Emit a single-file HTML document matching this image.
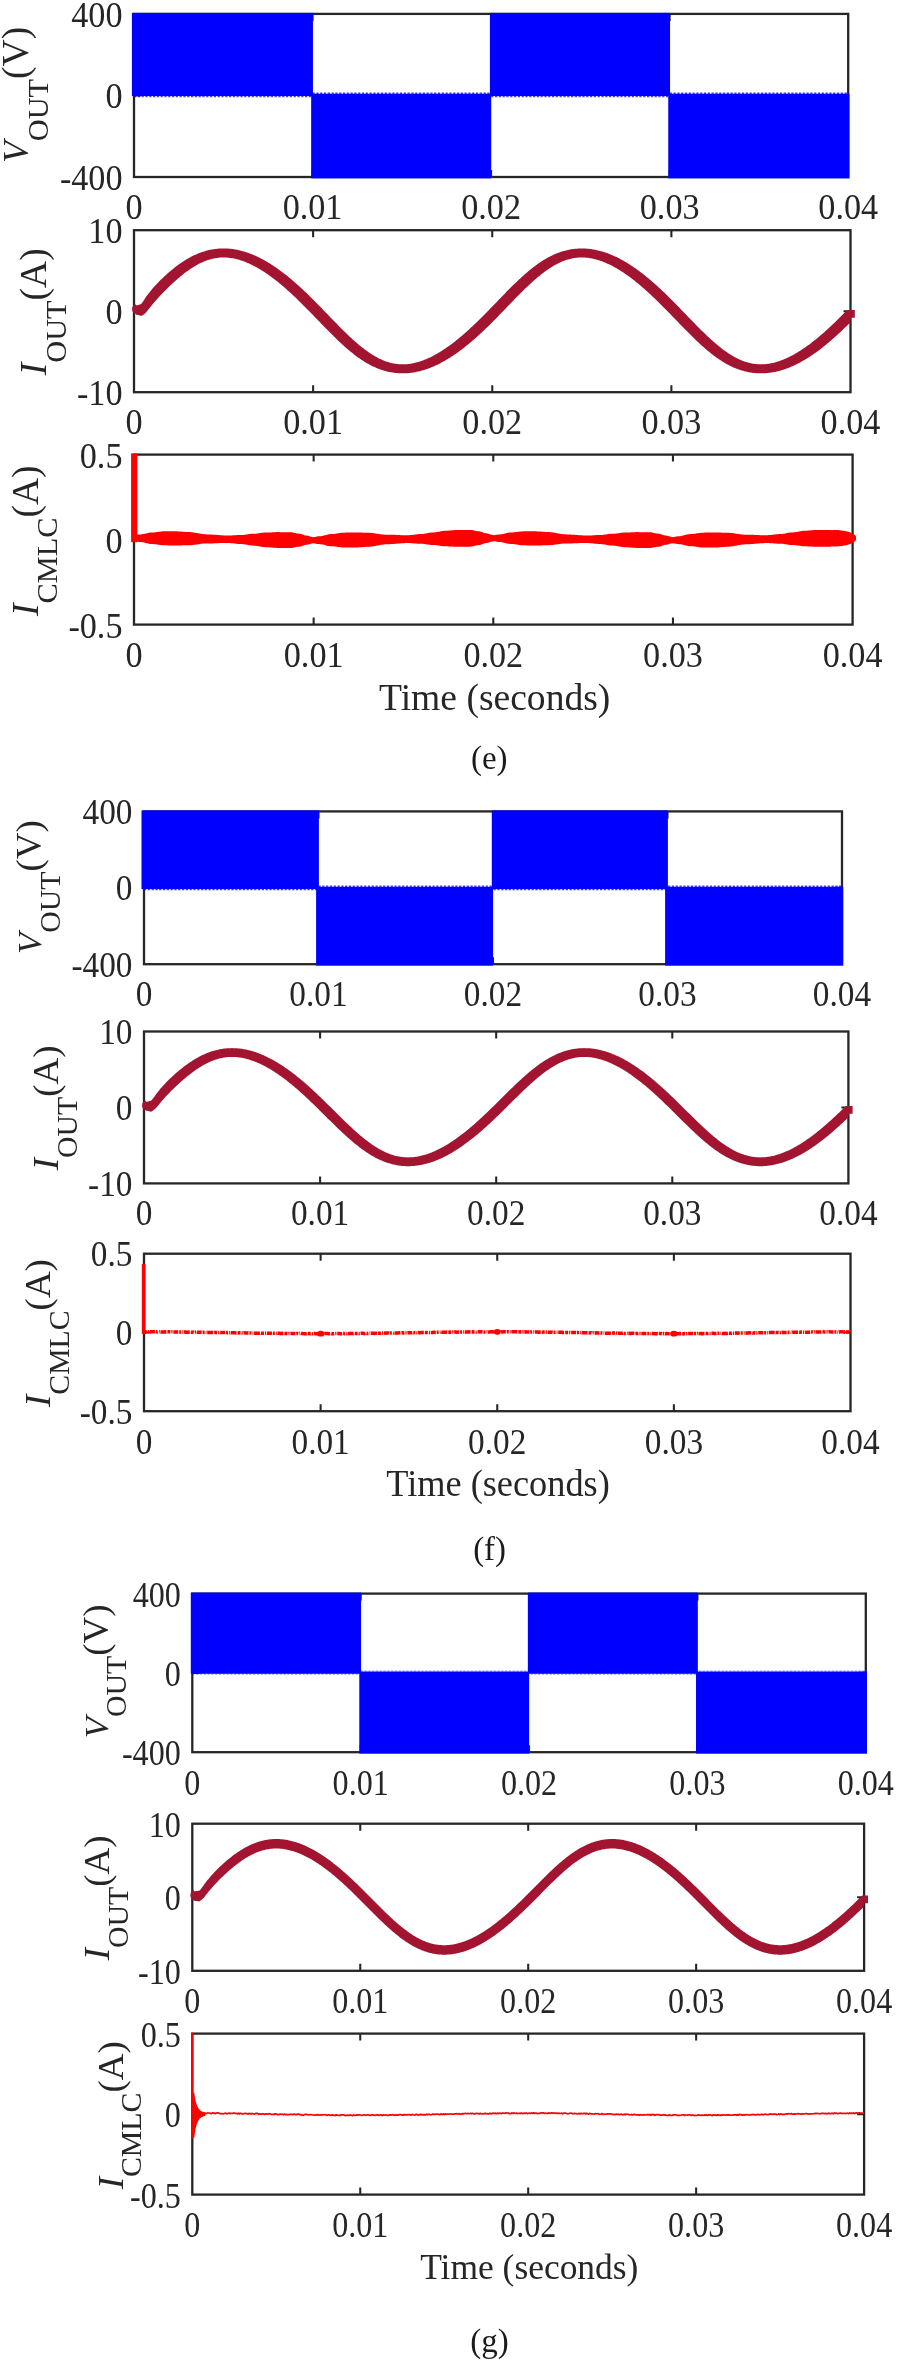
<!DOCTYPE html>
<html lang="en"><head><meta charset="utf-8"><title>Simulated waveforms</title>
<style>html,body{margin:0;padding:0;background:#fff}body{width:897px;height:2362px;overflow:hidden;font-family:"Liberation Serif",serif}svg{display:block;will-change:transform}</style></head>
<body>
<svg width="897" height="2362" viewBox="0 0 897 2362" font-family="'Liberation Serif', serif" fill="#262626">
<rect x="134" y="13.9" width="714.2" height="163.1" fill="none" stroke="#262626" stroke-width="2.3"/>
<path d="M312.55 177v-7M312.55 13.9v7M491.1 177v-7M491.1 13.9v7M669.65 177v-7M669.65 13.9v7M134 95.45h7M848.2 95.45h-7" stroke="#262626" stroke-width="2.07" fill="none"/>
<rect x="131.9" y="12.9" width="181.05" height="83.15" fill="#0000ff"/>
<rect x="311.15" y="93.75" width="180.05" height="84.65" fill="#0000ff"/>
<rect x="489.9" y="12.9" width="180.15" height="83.15" fill="#0000ff"/>
<rect x="668.25" y="93.75" width="181.15" height="84.65" fill="#0000ff"/>
<path d="M134 96.55H848.2" stroke="#0000ff" stroke-width="1.4" stroke-dasharray="2.2 1.6" opacity="0.75"/>
<path d="M312.55 93.25H848.2" stroke="#0000ff" stroke-width="1.4" stroke-dasharray="2.2 1.6" opacity="0.75"/>
<text transform="translate(134 219) scale(1.02 1.075)" font-size="33.5" text-anchor="middle">0</text>
<text transform="translate(312.55 219) scale(1.02 1.075)" font-size="33.5" text-anchor="middle">0.01</text>
<text transform="translate(491.1 219) scale(1.02 1.075)" font-size="33.5" text-anchor="middle">0.02</text>
<text transform="translate(669.65 219) scale(1.02 1.075)" font-size="33.5" text-anchor="middle">0.03</text>
<text transform="translate(848.2 219) scale(1.02 1.075)" font-size="33.5" text-anchor="middle">0.04</text>
<text transform="translate(122.5 26.89) scale(1.02 1.075)" font-size="33.5" text-anchor="end">400</text>
<text transform="translate(122.5 108.44) scale(1.02 1.075)" font-size="33.5" text-anchor="end">0</text>
<text transform="translate(122.5 189.99) scale(1.02 1.075)" font-size="33.5" text-anchor="end">-400</text>
<text transform="translate(28.3 94.75) rotate(-90)" text-anchor="middle" font-size="37.6"><tspan font-style="italic" font-size="35.3">V</tspan><tspan font-size="30.3" dy="19.55">OUT</tspan><tspan dy="-19.55">(V)</tspan></text>
<rect x="134" y="230.2" width="716.5" height="162" fill="none" stroke="#262626" stroke-width="2.3"/>
<path d="M313.12 392.2v-7M313.12 230.2v7M492.25 392.2v-7M492.25 230.2v7M671.38 392.2v-7M671.38 230.2v7M134 311.2h7M850.5 311.2h-7" stroke="#262626" stroke-width="2.07" fill="none"/>
<path d="M132 309.1L132.5 306.78L133 305.93L133.5 305.35L134 304.94L134.5 304.65L135 304.45L135.5 304.34L136 305.37L137 305.22L138 305.01L139 304.75L140 304.45L141 304.12L142 302.99L143 301.62L144 300.09L145 298.46L146 296.77L147 295.5L148 294.22L149 292.96L150 291.71L151 290.49L152 289.29L153 288.12L154 286.98L155 285.86L156 284.76L157 283.69L158 282.64L159 281.61L160 280.6L161 279.61L162 278.63L163 277.68L164 276.73L165 275.81L166 274.89L167 274L168 273.11L169 272.24L170 271.39L171 270.55L172 269.72L173 268.91L174 268.11L175 267.33L176 266.56L177 265.8L178 265.06L179 264.34L180 263.62L181 262.93L182 262.25L183 261.59L184 260.94L185 260.31L186 259.69L187 259.09L188 258.51L189 257.94L190 257.39L191 256.85L192 256.34L193 255.83L194 255.35L195 254.88L196 254.43L197 254L198 253.58L199 253.18L200 252.8L201 252.43L202 252.08L203 251.75L204 251.43L205 251.13L206 250.84L207 250.58L208 250.33L209 250.09L210 249.87L211 249.67L212 249.48L213 249.31L214 249.16L215 249.02L216 248.9L217 248.79L218 248.7L219 248.62L220 248.56L221 248.51L222 248.48L223 248.47L224 248.46L225 248.48L226 248.51L227 248.55L228 248.61L229 248.68L230 248.77L231 248.87L232 248.99L233 249.12L234 249.27L235 249.43L236 249.61L237 249.8L238 250L239 250.22L240 250.45L241 250.7L242 250.96L243 251.23L244 251.52L245 251.83L246 252.14L247 252.47L248 252.82L249 253.17L250 253.54L251 253.93L252 254.32L253 254.73L254 255.16L255 255.59L256 256.04L257 256.5L258 256.98L259 257.47L260 257.96L261 258.48L262 259L263 259.54L264 260.08L265 260.64L266 261.22L267 261.8L268 262.39L269 263L270 263.62L271 264.25L272 264.89L273 265.54L274 266.21L275 266.88L276 267.56L277 268.26L278 268.97L279 269.68L280 270.41L281 271.15L282 271.9L283 272.65L284 273.42L285 274.2L286 274.99L287 275.79L288 276.59L289 277.41L290 278.24L291 279.07L292 279.92L293 280.77L294 281.63L295 282.5L296 283.38L297 284.27L298 285.17L299 286.07L300 286.98L301 287.9L302 288.83L303 289.77L304 290.71L305 291.66L306 292.61L307 293.57L308 294.54L309 295.52L310 296.5L311 297.48L312 298.47L313 299.47L314 300.47L315 301.48L316 302.49L317 303.5L318 304.52L319 305.54L320 306.57L321 307.59L322 308.62L323 309.65L324 310.69L325 311.72L326 312.76L327 313.79L328 314.83L329 315.87L330 316.9L331 317.94L332 318.97L333 320.01L334 321.04L335 322.06L336 323.09L337 324.11L338 325.13L339 326.14L340 327.15L341 328.16L342 329.16L343 330.15L344 331.14L345 332.12L346 333.09L347 334.05L348 335.01L349 335.96L350 336.9L351 337.83L352 338.75L353 339.66L354 340.56L355 341.45L356 342.32L357 343.19L358 344.04L359 344.88L360 345.71L361 346.52L362 347.32L363 348.1L364 348.87L365 349.63L366 350.36L367 351.09L368 351.79L369 352.48L370 353.16L371 353.81L372 354.45L373 355.07L374 355.67L375 356.26L376 356.82L377 357.37L378 357.9L379 358.4L380 358.89L381 359.36L382 359.81L383 360.23L384 360.64L385 361.03L386 361.39L387 361.73L388 362.06L389 362.36L390 362.64L391 362.9L392 363.13L393 363.35L394 363.54L395 363.72L396 363.87L397 364L398 364.11L399 364.2L400 364.26L401 364.31L402 364.33L403 364.34L404 364.32L405 364.28L406 364.23L407 364.15L408 364.05L409 363.93L410 363.8L411 363.64L412 363.47L413 363.28L414 363.07L415 362.84L416 362.59L417 362.32L418 362.04L419 361.74L420 361.43L421 361.09L422 360.75L423 360.38L424 360L425 359.6L426 359.19L427 358.76L428 358.32L429 357.86L430 357.39L431 356.91L432 356.41L433 355.89L434 355.36L435 354.82L436 354.27L437 353.7L438 353.12L439 352.52L440 351.92L441 351.3L442 350.66L443 350.02L444 349.36L445 348.7L446 348.02L447 347.33L448 346.62L449 345.91L450 345.18L451 344.45L452 343.7L453 342.94L454 342.17L455 341.39L456 340.6L457 339.8L458 338.99L459 338.17L460 337.34L461 336.5L462 335.66L463 334.8L464 333.93L465 333.06L466 332.17L467 331.28L468 330.38L469 329.47L470 328.55L471 327.62L472 326.69L473 325.75L474 324.8L475 323.85L476 322.89L477 321.92L478 320.95L479 319.97L480 318.98L481 317.99L482 316.99L483 315.99L484 314.99L485 313.98L486 312.96L487 311.94L488 310.92L489 309.9L490 308.87L491 307.84L492 306.81L493 305.78L494 304.74L495 303.71L496 302.67L497 301.64L498 300.6L499 299.57L500 298.53L501 297.5L502 296.47L503 295.44L504 294.41L505 293.38L506 292.36L507 291.35L508 290.33L509 289.32L510 288.32L511 287.32L512 286.33L513 285.34L514 284.36L515 283.39L516 282.42L517 281.46L518 280.51L519 279.57L520 278.64L521 277.72L522 276.8L523 275.9L524 275.01L525 274.13L526 273.26L527 272.4L528 271.55L529 270.71L530 269.89L531 269.08L532 268.28L533 267.5L534 266.73L535 265.97L536 265.23L537 264.51L538 263.79L539 263.1L540 262.41L541 261.75L542 261.1L543 260.46L544 259.84L545 259.24L546 258.65L547 258.08L548 257.52L549 256.98L550 256.46L551 255.96L552 255.47L553 255L554 254.54L555 254.1L556 253.68L557 253.28L558 252.89L559 252.52L560 252.16L561 251.83L562 251.51L563 251.2L564 250.91L565 250.64L566 250.39L567 250.15L568 249.93L569 249.72L570 249.53L571 249.35L572 249.2L573 249.05L574 248.93L575 248.81L576 248.72L577 248.64L578 248.57L579 248.52L580 248.49L581 248.47L582 248.46L583 248.47L584 248.5L585 248.54L586 248.59L587 248.66L588 248.75L589 248.85L590 248.96L591 249.09L592 249.23L593 249.39L594 249.56L595 249.75L596 249.95L597 250.16L598 250.39L599 250.64L600 250.89L601 251.16L602 251.45L603 251.75L604 252.06L605 252.39L606 252.73L607 253.08L608 253.45L609 253.83L610 254.22L611 254.63L612 255.05L613 255.48L614 255.93L615 256.39L616 256.86L617 257.34L618 257.84L619 258.35L620 258.87L621 259.4L622 259.95L623 260.5L624 261.07L625 261.65L626 262.24L627 262.85L628 263.46L629 264.09L630 264.73L631 265.38L632 266.04L633 266.71L634 267.39L635 268.09L636 268.79L637 269.5L638 270.23L639 270.96L640 271.71L641 272.46L642 273.23L643 274.01L644 274.79L645 275.59L646 276.39L647 277.21L648 278.03L649 278.86L650 279.7L651 280.56L652 281.42L653 282.28L654 283.16L655 284.05L656 284.94L657 285.84L658 286.75L659 287.67L660 288.6L661 289.53L662 290.47L663 291.42L664 292.37L665 293.33L666 294.3L667 295.27L668 296.25L669 297.24L670 298.23L671 299.22L672 300.22L673 301.23L674 302.24L675 303.25L676 304.27L677 305.29L678 306.31L679 307.34L680 308.37L681 309.4L682 310.43L683 311.46L684 312.5L685 313.54L686 314.57L687 315.61L688 316.65L689 317.68L690 318.72L691 319.75L692 320.78L693 321.81L694 322.83L695 323.86L696 324.88L697 325.89L698 326.9L699 327.91L700 328.91L701 329.9L702 330.89L703 331.87L704 332.85L705 333.81L706 334.77L707 335.72L708 336.66L709 337.6L710 338.52L711 339.43L712 340.33L713 341.22L714 342.1L715 342.97L716 343.83L717 344.67L718 345.5L719 346.32L720 347.12L721 347.91L722 348.68L723 349.44L724 350.18L725 350.91L726 351.62L727 352.31L728 352.99L729 353.65L730 354.29L731 354.92L732 355.53L733 356.11L734 356.68L735 357.24L736 357.77L737 358.28L738 358.77L739 359.24L740 359.7L741 360.13L742 360.54L743 360.93L744 361.3L745 361.65L746 361.98L747 362.28L748 362.57L749 362.83L750 363.08L751 363.3L752 363.5L753 363.68L754 363.83L755 363.97L756 364.08L757 364.18L758 364.25L759 364.3L760 364.33L761 364.34L762 364.33L763 364.29L764 364.24L765 364.17L766 364.08L767 363.97L768 363.83L769 363.68L770 363.51L771 363.33L772 363.12L773 362.9L774 362.65L775 362.39L776 362.11L777 361.82L778 361.51L779 361.18L780 360.83L781 360.47L782 360.1L783 359.7L784 359.29L785 358.87L786 358.43L787 357.98L788 357.51L789 357.03L790 356.53L791 356.02L792 355.5L793 354.96L794 354.41L795 353.84L796 353.26L797 352.67L798 352.07L799 351.45L800 350.82L801 350.18L802 349.53L803 348.86L804 348.19L805 347.5L806 346.8L807 346.09L808 345.36L809 344.63L810 343.89L811 343.13L812 342.36L813 341.59L814 340.8L815 340L816 339.2L817 338.38L818 337.55L819 336.72L820 335.87L821 335.01L822 334.15L823 333.28L824 332.39L825 331.5L826 330.6L827 329.7L828 328.78L829 327.86L830 326.93L831 325.99L832 325.04L833 324.09L834 323.13L835 322.16L836 321.19L837 320.21L838 319.23L839 318.24L840 317.24L841 316.24L842 315.24L843 314.23L844 313.22L845 312.2L846 311.18L847 310.16L848 309.88L849 309.88L850 309.88L851 309.88L852 309.88L853 309.88L854 309.88L854.8 309.88L854.8 317.68L854 317.68L853 317.68L852 317.68L851 317.68L850 322.7L849 323.7L848 324.69L847 325.67L846 326.65L845 327.62L844 328.59L843 329.55L842 330.5L841 331.45L840 332.39L839 333.32L838 334.24L837 335.16L836 336.07L835 336.97L834 337.86L833 338.75L832 339.62L831 340.49L830 341.35L829 342.2L828 343.04L827 343.87L826 344.7L825 345.51L824 346.31L823 347.11L822 347.89L821 348.67L820 349.43L819 350.19L818 350.93L817 351.66L816 352.39L815 353.1L814 353.8L813 354.49L812 355.17L811 355.84L810 356.5L809 357.15L808 357.79L807 358.41L806 359.03L805 359.63L804 360.22L803 360.8L802 361.37L801 361.92L800 362.47L799 363L798 363.52L797 364.02L796 364.52L795 365L794 365.47L793 365.93L792 366.37L791 366.8L790 367.22L789 367.63L788 368.02L787 368.4L786 368.76L785 369.11L784 369.45L783 369.78L782 370.09L781 370.39L780 370.67L779 370.94L778 371.19L777 371.44L776 371.66L775 371.88L774 372.08L773 372.26L772 372.43L771 372.59L770 372.73L769 372.85L768 372.97L767 373.06L766 373.15L765 373.21L764 373.27L763 373.31L762 373.33L761 373.34L760 373.33L759 373.31L758 373.27L757 373.22L756 373.15L755 373.07L754 372.97L753 372.86L752 372.73L751 372.58L750 372.42L749 372.25L748 372.06L747 371.85L746 371.62L745 371.38L744 371.12L743 370.85L742 370.56L741 370.25L740 369.93L739 369.59L738 369.24L737 368.86L736 368.47L735 368.07L734 367.64L733 367.2L732 366.74L731 366.27L730 365.78L729 365.27L728 364.75L727 364.21L726 363.65L725 363.08L724 362.49L723 361.88L722 361.26L721 360.62L720 359.97L719 359.3L718 358.62L717 357.92L716 357.2L715 356.47L714 355.73L713 354.97L712 354.2L711 353.42L710 352.62L709 351.81L708 350.98L707 350.15L706 349.3L705 348.44L704 347.56L703 346.68L702 345.79L701 344.88L700 343.97L699 343.04L698 342.11L697 341.17L696 340.22L695 339.26L694 338.29L693 337.32L692 336.34L691 335.35L690 334.35L689 333.36L688 332.35L687 331.34L686 330.33L685 329.31L684 328.29L683 327.26L682 326.24L681 325.21L680 324.17L679 323.14L678 322.11L677 321.07L676 320.03L675 319L674 317.96L673 316.93L672 315.89L671 314.86L670 313.83L669 312.8L668 311.77L667 310.75L666 309.73L665 308.71L664 307.7L663 306.69L662 305.68L661 304.68L660 303.69L659 302.7L658 301.71L657 300.73L656 299.76L655 298.79L654 297.83L653 296.88L652 295.93L651 294.99L650 294.06L649 293.13L648 292.22L647 291.31L646 290.41L645 289.52L644 288.63L643 287.76L642 286.89L641 286.04L640 285.19L639 284.35L638 283.52L637 282.71L636 281.9L635 281.1L634 280.31L633 279.53L632 278.76L631 278.01L630 277.26L629 276.53L628 275.8L627 275.09L626 274.39L625 273.7L624 273.02L623 272.35L622 271.7L621 271.06L620 270.43L619 269.81L618 269.2L617 268.61L616 268.03L615 267.46L614 266.91L613 266.37L612 265.84L611 265.33L610 264.83L609 264.35L608 263.88L607 263.42L606 262.98L605 262.56L604 262.15L603 261.75L602 261.37L601 261.01L600 260.66L599 260.33L598 260.02L597 259.72L596 259.44L595 259.18L594 258.93L593 258.71L592 258.5L591 258.31L590 258.14L589 257.98L588 257.85L587 257.74L586 257.64L585 257.57L584 257.51L583 257.48L582 257.46L581 257.47L580 257.5L579 257.54L578 257.61L577 257.7L576 257.82L575 257.95L574 258.1L573 258.28L572 258.48L571 258.69L570 258.93L569 259.2L568 259.48L567 259.78L566 260.11L565 260.45L564 260.82L563 261.21L562 261.62L561 262.05L560 262.5L559 262.97L558 263.46L557 263.97L556 264.5L555 265.05L554 265.61L553 266.2L552 266.8L551 267.43L550 268.07L549 268.73L548 269.4L547 270.09L546 270.8L545 271.53L544 272.27L543 273.02L542 273.8L541 274.58L540 275.38L539 276.2L538 277.03L537 277.87L536 278.72L535 279.59L534 280.46L533 281.35L532 282.25L531 283.17L530 284.09L529 285.02L528 285.96L527 286.91L526 287.87L525 288.83L524 289.81L523 290.79L522 291.78L521 292.77L520 293.77L519 294.77L518 295.78L517 296.8L516 297.82L515 298.84L514 299.86L513 300.89L512 301.92L511 302.96L510 303.99L509 305.02L508 306.06L507 307.1L506 308.13L505 309.17L504 310.21L503 311.24L502 312.27L501 313.31L500 314.34L499 315.36L498 316.39L497 317.41L496 318.42L495 319.44L494 320.45L493 321.45L492 322.45L491 323.45L490 324.44L489 325.43L488 326.41L487 327.38L486 328.35L485 329.31L484 330.26L483 331.21L482 332.15L481 333.09L480 334.01L479 334.93L478 335.84L477 336.75L476 337.64L475 338.53L474 339.41L473 340.28L472 341.14L471 341.99L470 342.83L469 343.67L468 344.49L467 345.31L466 346.11L465 346.91L464 347.7L463 348.47L462 349.24L461 350L460 350.74L459 351.48L458 352.21L457 352.92L456 353.63L455 354.32L454 355.01L453 355.68L452 356.34L451 356.99L450 357.63L449 358.26L448 358.87L447 359.48L446 360.07L445 360.66L444 361.23L443 361.79L442 362.33L441 362.87L440 363.39L439 363.9L438 364.4L437 364.88L436 365.35L435 365.81L434 366.26L433 366.7L432 367.12L431 367.53L430 367.92L429 368.3L428 368.67L427 369.03L426 369.37L425 369.7L424 370.01L423 370.31L422 370.6L421 370.87L420 371.13L419 371.38L418 371.61L417 371.82L416 372.03L415 372.22L414 372.39L413 372.55L412 372.69L411 372.82L410 372.94L409 373.04L408 373.13L407 373.2L406 373.26L405 373.3L404 373.32L403 373.34L402 373.33L401 373.32L400 373.28L399 373.23L398 373.17L397 373.09L396 373L395 372.89L394 372.76L393 372.62L392 372.47L391 372.29L390 372.1L389 371.9L388 371.68L387 371.44L386 371.19L385 370.92L384 370.63L383 370.33L382 370.01L381 369.68L380 369.33L379 368.96L378 368.57L377 368.17L376 367.75L375 367.31L374 366.86L373 366.39L372 365.9L371 365.4L370 364.88L369 364.35L368 363.79L367 363.22L366 362.64L365 362.04L364 361.42L363 360.78L362 360.14L361 359.47L360 358.79L359 358.09L358 357.38L357 356.66L356 355.92L355 355.16L354 354.4L353 353.61L352 352.82L351 352.01L350 351.19L349 350.36L348 349.51L347 348.65L346 347.78L345 346.9L344 346.01L343 345.11L342 344.2L341 343.28L340 342.34L339 341.4L338 340.46L337 339.5L336 338.53L335 337.56L334 336.58L333 335.6L332 334.6L331 333.61L330 332.6L329 331.59L328 330.58L327 329.56L326 328.54L325 327.52L324 326.49L323 325.46L322 324.43L321 323.4L320 322.36L319 321.33L318 320.29L317 319.26L316 318.22L315 317.18L314 316.15L313 315.12L312 314.09L311 313.06L310 312.03L309 311L308 309.98L307 308.96L306 307.95L305 306.94L304 305.93L303 304.93L302 303.93L301 302.94L300 301.96L299 300.98L298 300L297 299.03L296 298.07L295 297.12L294 296.17L293 295.23L292 294.29L291 293.37L290 292.45L289 291.54L288 290.63L287 289.74L286 288.85L285 287.98L284 287.11L283 286.25L282 285.4L281 284.56L280 283.73L279 282.91L278 282.1L277 281.3L276 280.51L275 279.73L274 278.96L273 278.2L272 277.45L271 276.71L270 275.98L269 275.27L268 274.56L267 273.87L266 273.19L265 272.52L264 271.86L263 271.22L262 270.58L261 269.96L260 269.35L259 268.76L258 268.17L257 267.6L256 267.05L255 266.5L254 265.97L253 265.46L252 264.96L251 264.47L250 263.99L249 263.54L248 263.09L247 262.66L246 262.25L245 261.85L244 261.47L243 261.1L242 260.75L241 260.41L240 260.1L239 259.79L238 259.51L237 259.24L236 258.99L235 258.76L234 258.55L233 258.35L232 258.18L231 258.02L230 257.88L229 257.76L228 257.66L227 257.58L226 257.52L225 257.48L224 257.46L223 257.47L222 257.49L221 257.53L220 257.59L219 257.68L218 257.79L217 257.91L216 258.06L215 258.23L214 258.42L213 258.64L212 258.87L211 259.13L210 259.41L209 259.7L208 260.02L207 260.37L206 260.73L205 261.11L204 261.51L203 261.94L202 262.38L201 262.85L200 263.33L199 263.84L198 264.36L197 264.91L196 265.47L195 266.05L194 266.65L193 267.27L192 267.91L191 268.56L190 269.23L189 269.92L188 270.63L187 271.35L186 272.08L185 272.84L184 273.6L183 274.39L182 275.19L181 276L180 276.82L179 277.66L178 278.52L177 279.38L176 280.26L175 281.15L174 282.05L173 282.97L172 283.89L171 284.83L170 285.77L169 286.73L168 287.7L167 288.68L166 289.67L165 290.67L164 291.68L163 292.71L162 293.74L161 294.79L160 295.85L159 296.93L158 298.02L157 299.13L156 300.25L155 301.4L154 302.56L153 303.75L152 304.95L151 306.18L150 307.43L149 308.7L148 309.99L147 311.28L146 312.57L145 313.39L144 314.18L143 314.89L142 315.48L141 315.88L140 315.55L139 315.25L138 314.99L137 314.78L136 314.63L135.5 313.86L135 313.75L134.5 313.55L134 313.26L133.5 312.85L133 312.27L132.5 311.42L132 309.1Z" fill="#a2142f"/>
<text transform="translate(134 434.2) scale(1.02 1.075)" font-size="33.5" text-anchor="middle">0</text>
<text transform="translate(313.12 434.2) scale(1.02 1.075)" font-size="33.5" text-anchor="middle">0.01</text>
<text transform="translate(492.25 434.2) scale(1.02 1.075)" font-size="33.5" text-anchor="middle">0.02</text>
<text transform="translate(671.38 434.2) scale(1.02 1.075)" font-size="33.5" text-anchor="middle">0.03</text>
<text transform="translate(850.5 434.2) scale(1.02 1.075)" font-size="33.5" text-anchor="middle">0.04</text>
<text transform="translate(122.5 243.19) scale(1.02 1.075)" font-size="33.5" text-anchor="end">10</text>
<text transform="translate(122.5 324.19) scale(1.02 1.075)" font-size="33.5" text-anchor="end">0</text>
<text transform="translate(122.5 405.19) scale(1.02 1.075)" font-size="33.5" text-anchor="end">-10</text>
<text transform="translate(46 311.7) rotate(-90)" text-anchor="middle" font-size="37.6"><tspan font-style="italic">I</tspan><tspan font-size="30.3" dy="19.55">OUT</tspan><tspan dy="-19.55">(A)</tspan></text>
<rect x="134" y="454.6" width="718.6" height="170" fill="none" stroke="#262626" stroke-width="2.3"/>
<path d="M313.65 624.6v-7M313.65 454.6v7M493.3 624.6v-7M493.3 454.6v7M672.95 624.6v-7M672.95 454.6v7M134 539.6h7M852.6 539.6h-7" stroke="#262626" stroke-width="2.07" fill="none"/>
<path d="M134 535.2L135 535.14L136 534.99L137 534.79L138 534.61L139 534.51L140 534.49L141 534.42L142 534.29L143 534.11L144 533.89L145 533.65L146 533.39L147 533.14L148 532.9L149 532.71L150 532.56L151 532.47L152 532.45L153 532.43L154 532.38L155 532.3L156 532.19L157 532.06L158 531.92L159 531.78L160 531.65L161 531.53L162 531.43L163 531.37L164 531.34L165 531.34L166 531.35L167 531.35L168 531.35L169 531.35L170 531.35L171 531.35L172 531.35L173 531.35L174 531.35L175 531.35L176 531.36L177 531.37L178 531.39L179 531.43L180 531.49L181 531.56L182 531.65L183 531.73L184 531.81L185 531.89L186 531.95L187 531.99L188 532.01L189 532.04L190 532.1L191 532.18L192 532.29L193 532.41L194 532.56L195 532.72L196 532.89L197 533.07L198 533.25L199 533.43L200 533.61L201 533.78L202 533.93L203 534.07L204 534.19L205 534.28L206 534.36L207 534.4L208 534.43L209 534.45L210 534.49L211 534.53L212 534.59L213 534.65L214 534.72L215 534.79L216 534.87L217 534.95L218 535.03L219 535.11L220 535.19L221 535.26L222 535.33L223 535.39L224 535.45L225 535.49L226 535.53L227 535.55L228 535.57L229 535.56L230 535.54L231 535.49L232 535.44L233 535.36L234 535.29L235 535.21L236 535.13L237 535.05L238 534.99L239 534.94L240 534.91L241 534.9L242 534.91L243 534.89L244 534.82L245 534.7L246 534.55L247 534.38L248 534.21L249 534.05L250 533.92L251 533.82L252 533.78L253 533.79L254 533.77L255 533.72L256 533.63L257 533.52L258 533.39L259 533.25L260 533.1L261 532.95L262 532.82L263 532.69L264 532.6L265 532.53L266 532.49L267 532.49L268 532.49L269 532.47L270 532.43L271 532.38L272 532.32L273 532.26L274 532.2L275 532.15L276 532.12L277 532.11L278 532.11L279 532.12L280 532.13L281 532.14L282 532.15L283 532.16L284 532.17L285 532.18L286 532.19L287 532.19L288 532.2L289 532.21L290 532.22L291 532.24L292 532.35L293 532.53L294 532.75L295 533L296 533.24L297 533.45L298 533.59L299 533.66L300 533.72L301 533.93L302 534.28L303 534.69L304 535.09L305 535.4L306 535.57L307 535.62L308 535.77L309 536.04L310 536.38L311 536.72L312 537L313 537.17L314 537.01L315 536.91L316 536.72L317 536.51L318 536.34L319 536.27L320 536.24L321 536.14L322 535.98L323 535.76L324 535.51L325 535.24L326 534.96L327 534.69L328 534.44L329 534.25L330 534.1L331 534.02L332 534L333 533.96L334 533.88L335 533.77L336 533.63L337 533.48L338 533.31L339 533.15L340 532.99L341 532.86L342 532.75L343 532.68L344 532.64L345 532.63L346 532.62L347 532.6L348 532.58L349 532.56L350 532.54L351 532.51L352 532.49L353 532.47L354 532.45L355 532.43L356 532.41L357 532.4L358 532.4L359 532.43L360 532.47L361 532.53L362 532.59L363 532.65L364 532.71L365 532.76L366 532.79L367 532.8L368 532.79L369 532.8L370 532.84L371 532.91L372 532.99L373 533.1L374 533.23L375 533.38L376 533.53L377 533.69L378 533.85L379 534.01L380 534.16L381 534.3L382 534.42L383 534.53L384 534.61L385 534.67L386 534.71L387 534.71L388 534.7L389 534.7L390 534.7L391 534.72L392 534.74L393 534.77L394 534.81L395 534.86L396 534.9L397 534.95L398 535L399 535.05L400 535.1L401 535.14L402 535.17L403 535.2L404 535.22L405 535.23L406 535.23L407 535.22L408 535.19L409 535.14L410 535.07L411 534.98L412 534.88L413 534.76L414 534.64L415 534.52L416 534.41L417 534.3L418 534.2L419 534.12L420 534.06L421 534.02L422 534L423 533.92L424 533.79L425 533.62L426 533.42L427 533.2L428 532.99L429 532.8L430 532.64L431 532.53L432 532.47L433 532.44L434 532.38L435 532.28L436 532.15L437 532L438 531.82L439 531.64L440 531.45L441 531.27L442 531.1L443 530.95L444 530.83L445 530.74L446 530.69L447 530.66L448 530.63L449 530.58L450 530.51L451 530.43L452 530.34L453 530.25L454 530.17L455 530.1L456 530.05L457 530.02L458 530.01L459 530L460 529.99L461 529.98L462 529.97L463 529.96L464 529.95L465 529.95L466 529.94L467 529.93L468 529.92L469 529.91L470 529.91L471 529.95L472 530.08L473 530.27L474 530.51L475 530.76L476 531L477 531.19L478 531.31L479 531.34L480 531.45L481 531.72L482 532.11L483 532.54L484 532.94L485 533.22L486 533.33L487 533.39L488 533.6L489 533.92L490 534.28L491 534.63L492 534.89L493 535.01L494 535.17L495 535.04L496 534.85L497 534.66L498 534.53L499 534.5L500 534.45L501 534.34L502 534.17L503 533.96L504 533.72L505 533.46L506 533.21L507 532.97L508 532.76L509 532.6L510 532.49L511 532.45L512 532.44L513 532.4L514 532.33L515 532.23L516 532.1L517 531.97L518 531.82L519 531.69L520 531.56L521 531.46L522 531.39L523 531.35L524 531.34L525 531.35L526 531.35L527 531.35L528 531.35L529 531.35L530 531.35L531 531.35L532 531.35L533 531.35L534 531.35L535 531.36L536 531.37L537 531.38L538 531.42L539 531.47L540 531.54L541 531.62L542 531.71L543 531.79L544 531.87L545 531.93L546 531.98L547 532.01L548 532.03L549 532.08L550 532.16L551 532.25L552 532.37L553 532.51L554 532.67L555 532.84L556 533.01L557 533.2L558 533.38L559 533.56L560 533.73L561 533.89L562 534.03L563 534.15L564 534.26L565 534.34L566 534.39L567 534.42L568 534.44L569 534.48L570 534.52L571 534.57L572 534.63L573 534.69L574 534.77L575 534.84L576 534.92L577 535L578 535.08L579 535.16L580 535.24L581 535.31L582 535.37L583 535.43L584 535.48L585 535.52L586 535.55L587 535.57L588 535.57L589 535.55L590 535.51L591 535.45L592 535.39L593 535.31L594 535.23L595 535.15L596 535.07L597 535.01L598 534.96L599 534.92L600 534.9L601 534.91L602 534.9L603 534.84L604 534.74L605 534.59L606 534.43L607 534.26L608 534.09L609 533.95L610 533.85L611 533.79L612 533.78L613 533.78L614 533.73L615 533.66L616 533.56L617 533.43L618 533.29L619 533.15L620 533L621 532.86L622 532.73L623 532.62L624 532.54L625 532.5L626 532.48L627 532.49L628 532.47L629 532.44L630 532.4L631 532.34L632 532.28L633 532.22L634 532.17L635 532.13L636 532.11L637 532.11L638 532.12L639 532.13L640 532.14L641 532.15L642 532.16L643 532.17L644 532.17L645 532.18L646 532.19L647 532.2L648 532.21L649 532.21L650 532.23L651 532.31L652 532.47L653 532.68L654 532.92L655 533.17L656 533.39L657 533.56L658 533.65L659 533.69L660 533.85L661 534.16L662 534.56L663 534.97L664 535.32L665 535.54L666 535.6L667 535.71L668 535.95L669 536.27L670 536.62L671 536.93L672 537.13L673 537.02L674 536.95L675 536.78L676 536.57L677 536.38L678 536.28L679 536.26L680 536.18L681 536.03L682 535.83L683 535.59L684 535.32L685 535.04L686 534.76L687 534.51L688 534.3L689 534.14L690 534.04L691 534L692 533.97L693 533.91L694 533.81L695 533.68L696 533.52L697 533.36L698 533.2L699 533.04L700 532.9L701 532.78L702 532.7L703 532.65L704 532.64L705 532.62L706 532.61L707 532.59L708 532.57L709 532.55L710 532.52L711 532.5L712 532.47L713 532.45L714 532.43L715 532.42L716 532.4L717 532.4L718 532.42L719 532.46L720 532.51L721 532.57L722 532.64L723 532.7L724 532.75L725 532.78L726 532.8L727 532.79L728 532.79L729 532.83L730 532.88L731 532.97L732 533.07L733 533.19L734 533.33L735 533.48L736 533.64L737 533.8L738 533.96L739 534.11L740 534.26L741 534.39L742 534.5L743 534.59L744 534.66L745 534.7L746 534.71L747 534.7L748 534.7L749 534.7L750 534.71L751 534.73L752 534.76L753 534.8L754 534.84L755 534.89L756 534.94L757 534.99L758 535.04L759 535.08L760 535.13L761 535.16L762 535.19L763 535.21L764 535.23L765 535.23L766 535.22L767 535.2L768 535.16L769 535.09L770 535.01L771 534.91L772 534.8L773 534.68L774 534.56L775 534.44L776 534.33L777 534.23L778 534.14L779 534.08L780 534.03L781 534.01L782 533.95L783 533.83L784 533.67L785 533.48L786 533.27L787 533.05L788 532.85L789 532.68L790 532.55L791 532.48L792 532.45L793 532.4L794 532.31L795 532.19L796 532.05L797 531.88L798 531.7L799 531.51L800 531.32L801 531.15L802 530.99L803 530.86L804 530.76L805 530.7L806 530.67L807 530.64L808 530.6L809 530.53L810 530.45L811 530.37L812 530.28L813 530.19L814 530.12L815 530.07L816 530.03L817 530.01L818 530L819 529.99L820 529.98L821 529.97L822 529.97L823 529.96L824 529.95L825 529.94L826 529.93L827 529.92L828 529.92L829 529.91L830 529.93L831 530.03L832 530.21L833 529.91L834 529.92L835 529.94L836 529.98L837 530.03L838 530.1L839 530.18L840 530.27L841 530.38L842 530.51L843 530.66L844 530.82L845 531.01L846 531.21L847 531.45L848 531.71L849 532L850 532.34L851 532.72L852 533.16L853 533.68L854 534.32L855 535.17L856 536.62L856 539.78L855 541.23L854 542.08L853 542.72L852 543.24L851 543.68L850 544.07L849 544.4L848 544.7L847 544.96L846 545.2L845 545.41L844 545.6L843 545.77L842 545.92L841 546.06L840 546.18L839 546.28L838 546.37L837 546.44L836 546.5L835 546.55L834 546.58L833 546.6L832 546.32L831 546.51L830 546.63L829 546.66L828 546.67L827 546.67L826 546.68L825 546.69L824 546.7L823 546.71L822 546.71L821 546.72L820 546.73L819 546.74L818 546.75L817 546.76L816 546.77L815 546.75L814 546.72L813 546.67L812 546.61L811 546.54L810 546.48L809 546.42L808 546.38L807 546.36L806 546.36L805 546.36L804 546.32L803 546.24L802 546.14L801 546.01L800 545.87L799 545.71L798 545.55L797 545.4L796 545.26L795 545.14L794 545.05L793 544.99L792 544.97L791 544.97L790 544.93L789 544.83L788 544.7L787 544.53L786 544.34L785 544.16L784 544L783 543.87L782 543.79L781 543.76L780 543.77L779 543.76L778 543.73L777 543.68L776 543.61L775 543.54L774 543.45L773 543.36L772 543.28L771 543.2L770 543.14L769 543.09L768 543.06L767 543.05L766 543.07L765 543.09L764 543.13L763 543.18L762 543.23L761 543.3L760 543.37L759 543.45L758 543.53L757 543.61L756 543.7L755 543.78L754 543.86L753 543.94L752 544.01L751 544.08L750 544.13L749 544.18L748 544.22L747 544.24L746 544.26L745 544.31L744 544.39L743 544.49L742 544.61L741 544.76L740 544.92L739 545.09L738 545.28L737 545.47L736 545.66L735 545.85L734 546.03L733 546.2L732 546.36L731 546.49L730 546.6L729 546.69L728 546.75L727 546.78L726 546.8L725 546.85L724 546.91L723 546.99L722 547.07L721 547.16L720 547.25L719 547.33L718 547.39L717 547.43L716 547.46L715 547.47L714 547.47L713 547.48L712 547.48L711 547.48L710 547.47L709 547.47L708 547.47L707 547.47L706 547.47L705 547.47L704 547.48L703 547.48L702 547.45L701 547.38L700 547.28L699 547.16L698 547.02L697 546.86L696 546.72L695 546.58L694 546.46L693 546.37L692 546.32L691 546.3L690 546.27L689 546.18L688 546.03L687 545.83L686 545.58L685 545.32L684 545.04L683 544.78L682 544.54L681 544.35L680 544.21L679 544.13L678 544.11L677 544.01L676 543.83L675 543.61L674 543.45L673 543.38L672 543.27L671 543.47L670 543.78L669 544.12L668 544.44L667 544.68L666 544.79L665 544.84L664 545.06L663 545.4L662 545.8L661 546.19L660 546.5L659 546.65L658 546.68L657 546.77L656 546.92L655 547.13L654 547.37L653 547.6L652 547.8L651 547.94L650 548.01L649 548.01L648 548.01L647 548L646 547.99L645 547.98L644 547.97L643 547.97L642 547.96L641 547.95L640 547.94L639 547.93L638 547.92L637 547.91L636 547.89L635 547.85L634 547.79L633 547.71L632 547.63L631 547.55L630 547.47L629 547.4L628 547.34L627 547.3L626 547.28L625 547.24L624 547.17L623 547.06L622 546.93L621 546.77L620 546.6L619 546.43L618 546.25L617 546.08L616 545.93L615 545.8L614 545.69L613 545.62L612 545.58L611 545.55L610 545.46L609 545.32L608 545.15L607 544.95L606 544.75L605 544.55L604 544.38L603 544.24L602 544.15L601 544.11L600 544.08L599 544.03L598 543.96L597 543.87L596 543.77L595 543.66L594 543.55L593 543.43L592 543.32L591 543.22L590 543.13L589 543.06L588 543L587 542.97L586 542.95L585 542.95L584 542.95L583 542.97L582 542.99L581 543.02L580 543.05L579 543.09L578 543.14L577 543.18L576 543.23L575 543.27L574 543.32L573 543.35L572 543.38L571 543.41L570 543.43L569 543.43L568 543.43L567 543.42L566 543.42L565 543.44L564 543.49L563 543.56L562 543.65L561 543.76L560 543.89L559 544.02L558 544.17L557 544.32L556 544.47L555 544.62L554 544.76L553 544.88L552 544.99L551 545.08L550 545.15L549 545.2L548 545.22L547 545.21L546 545.21L545 545.23L544 545.27L543 545.32L542 545.38L541 545.44L540 545.49L539 545.54L538 545.56L537 545.57L536 545.57L535 545.55L534 545.53L533 545.51L532 545.49L531 545.47L530 545.45L529 545.42L528 545.4L527 545.38L526 545.37L525 545.35L524 545.34L523 545.32L522 545.26L521 545.17L520 545.05L519 544.91L518 544.76L517 544.6L516 544.45L515 544.31L514 544.2L513 544.11L512 544.06L511 544.05L510 543.99L509 543.87L508 543.7L507 543.49L506 543.24L505 542.98L504 542.71L503 542.47L502 542.25L501 542.08L500 541.96L499 541.91L498 541.88L497 541.75L496 541.55L495 541.36L494 541.23L493 541.39L492 541.51L491 541.77L490 542.12L489 542.49L488 542.81L487 543.02L486 543.09L485 543.2L484 543.49L483 543.89L482 544.33L481 544.73L480 545.01L479 545.12L478 545.16L477 545.29L476 545.49L475 545.74L474 546L473 546.25L472 546.46L471 546.6L470 546.66L469 546.66L468 546.67L467 546.68L466 546.69L465 546.69L464 546.7L463 546.71L462 546.72L461 546.73L460 546.74L459 546.75L458 546.76L457 546.77L456 546.76L455 546.73L454 546.68L453 546.62L452 546.56L451 546.5L450 546.44L449 546.39L448 546.36L447 546.36L446 546.36L445 546.33L444 546.27L443 546.17L442 546.05L441 545.91L440 545.76L439 545.6L438 545.44L437 545.3L436 545.17L435 545.07L434 545L433 544.97L432 544.97L431 544.95L430 544.87L429 544.74L428 544.58L427 544.4L426 544.22L425 544.05L424 543.91L423 543.81L422 543.77L421 543.77L420 543.77L419 543.74L418 543.7L417 543.63L416 543.56L415 543.48L414 543.39L413 543.3L412 543.22L411 543.16L410 543.1L409 543.07L408 543.05L407 543.06L406 543.08L405 543.12L404 543.16L403 543.22L402 543.28L401 543.35L400 543.42L399 543.5L398 543.59L397 543.67L396 543.76L395 543.84L394 543.92L393 543.99L392 544.06L391 544.12L390 544.17L389 544.21L388 544.23L387 544.26L386 544.29L385 544.36L384 544.45L383 544.57L382 544.71L381 544.87L380 545.04L379 545.22L378 545.41L377 545.6L376 545.8L375 545.98L374 546.15L373 546.31L372 546.45L371 546.57L370 546.66L369 546.73L368 546.77L367 546.79L366 546.83L365 546.89L364 546.96L363 547.05L362 547.14L361 547.22L360 547.31L359 547.37L358 547.42L357 547.45L356 547.46L355 547.47L354 547.48L353 547.48L352 547.48L351 547.47L350 547.47L349 547.47L348 547.47L347 547.47L346 547.47L345 547.47L344 547.48L343 547.46L342 547.41L341 547.32L340 547.2L339 547.06L338 546.91L337 546.76L336 546.62L335 546.49L334 546.39L333 546.33L332 546.3L331 546.29L330 546.22L329 546.08L328 545.89L327 545.66L326 545.4L325 545.12L324 544.86L323 544.61L322 544.4L321 544.24L320 544.15L319 544.12L318 544.05L317 543.89L316 543.68L315 543.49L314 543.39L313 543.23L312 543.4L311 543.68L310 544.02L309 544.35L308 544.62L307 544.77L306 544.81L305 544.98L304 545.29L303 545.68L302 546.08L301 546.42L300 546.62L299 546.67L298 546.73L297 546.87L296 547.06L295 547.3L294 547.53L293 547.75L292 547.91L291 548L290 548.02L289 548.01L288 548L287 547.99L286 547.99L285 547.98L284 547.97L283 547.96L282 547.95L281 547.94L280 547.93L279 547.92L278 547.91L277 547.9L276 547.86L275 547.81L274 547.74L273 547.66L272 547.57L271 547.49L270 547.42L269 547.35L268 547.31L267 547.29L266 547.26L265 547.19L264 547.1L263 546.97L262 546.82L261 546.66L260 546.48L259 546.3L258 546.13L257 545.97L256 545.83L255 545.72L254 545.64L253 545.59L252 545.56L251 545.49L250 545.37L249 545.21L248 545.01L247 544.81L246 544.61L245 544.43L244 544.28L243 544.17L242 544.11L241 544.09L240 544.05L239 543.98L238 543.9L237 543.8L236 543.7L235 543.58L234 543.47L233 543.36L232 543.25L231 543.16L230 543.08L229 543.02L228 542.98L227 542.96L226 542.95L225 542.95L224 542.96L223 542.98L222 543.01L221 543.04L220 543.08L219 543.12L218 543.17L217 543.22L216 543.26L215 543.3L214 543.34L213 543.38L212 543.4L211 543.42L210 543.43L209 543.43L208 543.43L207 543.42L206 543.43L205 543.47L204 543.53L203 543.62L202 543.72L201 543.85L200 543.98L199 544.13L198 544.28L197 544.43L196 544.57L195 544.72L194 544.84L193 544.96L192 545.06L191 545.13L190 545.18L189 545.21L188 545.21L187 545.21L186 545.22L185 545.26L184 545.3L183 545.36L182 545.42L181 545.48L180 545.52L179 545.56L178 545.57L177 545.57L176 545.56L175 545.54L174 545.52L173 545.5L172 545.48L171 545.45L170 545.43L169 545.41L168 545.39L167 545.37L166 545.36L165 545.34L164 545.33L163 545.28L162 545.2L161 545.09L160 544.96L159 544.81L158 544.65L157 544.5L156 544.35L155 544.23L154 544.14L153 544.07L152 544.05L151 544.01L150 543.91L149 543.76L148 543.56L147 543.32L146 543.06L145 542.79L144 542.54L143 542.31L142 542.13L141 541.99L140 541.92L139 541.89L138 541.79L137 541.61L136 541.41L135 541.26L134 541.2Z" fill="#ff0000"/>
<rect x="131.1" y="453.4" width="6.2" height="88.8" fill="#ff0000"/>
<text transform="translate(134 666.6) scale(1.02 1.075)" font-size="33.5" text-anchor="middle">0</text>
<text transform="translate(313.65 666.6) scale(1.02 1.075)" font-size="33.5" text-anchor="middle">0.01</text>
<text transform="translate(493.3 666.6) scale(1.02 1.075)" font-size="33.5" text-anchor="middle">0.02</text>
<text transform="translate(672.95 666.6) scale(1.02 1.075)" font-size="33.5" text-anchor="middle">0.03</text>
<text transform="translate(852.6 666.6) scale(1.02 1.075)" font-size="33.5" text-anchor="middle">0.04</text>
<text transform="translate(122.5 467.59) scale(1.02 1.075)" font-size="33.5" text-anchor="end">0.5</text>
<text transform="translate(122.5 552.59) scale(1.02 1.075)" font-size="33.5" text-anchor="end">0</text>
<text transform="translate(122.5 637.59) scale(1.02 1.075)" font-size="33.5" text-anchor="end">-0.5</text>
<text transform="translate(37.5 540.7) rotate(-90)" text-anchor="middle" font-size="37.6"><tspan font-style="italic">I</tspan><tspan font-size="30.3" dy="19.55">CMLC</tspan><tspan dy="-19.55">(A)</tspan></text>
<text x="494.7" y="710.4" font-size="37.6" text-anchor="middle">Time (seconds)</text>
<text transform="translate(489.3 768.9) scale(0.95 1.0)" font-size="34.7" text-anchor="middle" fill="#1a1a1a">(e)</text>
<rect x="144" y="811.4" width="698" height="152.8" fill="none" stroke="#262626" stroke-width="2.3"/>
<path d="M318.5 964.2v-7M318.5 811.4v7M493 964.2v-7M493 811.4v7M667.5 964.2v-7M667.5 811.4v7M144 887.8h7M842 887.8h-7" stroke="#262626" stroke-width="2.07" fill="none"/>
<rect x="141.5" y="810.4" width="177.4" height="78.7" fill="#0000ff"/>
<rect x="316.1" y="886.8" width="177" height="78.8" fill="#0000ff"/>
<rect x="491.8" y="810.4" width="176.1" height="78.7" fill="#0000ff"/>
<rect x="665.1" y="886.8" width="178.1" height="78.8" fill="#0000ff"/>
<path d="M144 889.6H842" stroke="#0000ff" stroke-width="1.4" stroke-dasharray="2.2 1.6" opacity="0.75"/>
<path d="M318.5 886.3H842" stroke="#0000ff" stroke-width="1.4" stroke-dasharray="2.2 1.6" opacity="0.75"/>
<text transform="translate(144 1005.8) scale(0.995 1.046)" font-size="33.5" text-anchor="middle">0</text>
<text transform="translate(318.5 1005.8) scale(0.995 1.046)" font-size="33.5" text-anchor="middle">0.01</text>
<text transform="translate(493 1005.8) scale(0.995 1.046)" font-size="33.5" text-anchor="middle">0.02</text>
<text transform="translate(667.5 1005.8) scale(0.995 1.046)" font-size="33.5" text-anchor="middle">0.03</text>
<text transform="translate(842 1005.8) scale(0.995 1.046)" font-size="33.5" text-anchor="middle">0.04</text>
<text transform="translate(132.5 824.08) scale(0.995 1.046)" font-size="33.5" text-anchor="end">400</text>
<text transform="translate(132.5 900.48) scale(0.995 1.046)" font-size="33.5" text-anchor="end">0</text>
<text transform="translate(132.5 976.88) scale(0.995 1.046)" font-size="33.5" text-anchor="end">-400</text>
<text transform="translate(41 887.1) scale(0.966 0.982) rotate(-90)" text-anchor="middle" font-size="37.6"><tspan font-style="italic" font-size="35.3">V</tspan><tspan font-size="30.3" dy="19.55">OUT</tspan><tspan dy="-19.55">(V)</tspan></text>
<rect x="144" y="1031.5" width="704.4" height="151.9" fill="none" stroke="#262626" stroke-width="2.3"/>
<path d="M320.1 1183.4v-7M320.1 1031.5v7M496.2 1183.4v-7M496.2 1031.5v7M672.3 1183.4v-7M672.3 1031.5v7M144 1107.45h7M848.4 1107.45h-7" stroke="#262626" stroke-width="2.07" fill="none"/>
<path d="M142 1105.35L142.5 1103.07L143 1102.24L143.5 1101.68L144 1101.28L144.5 1100.99L145 1100.8L145.5 1100.69L146 1101.76L147 1101.65L148 1101.49L149 1101.3L150 1101.08L151 1100.83L152 1099.81L153 1098.57L154 1097.17L155 1095.68L156 1094.13L157 1092.91L158 1091.68L159 1090.47L160 1089.27L161 1088.1L162 1086.95L163 1085.83L164 1084.73L165 1083.65L166 1082.6L167 1081.57L168 1080.56L169 1079.57L170 1078.6L171 1077.65L172 1076.71L173 1075.79L174 1074.88L175 1073.99L176 1073.12L177 1072.25L178 1071.41L179 1070.57L180 1069.75L181 1068.94L182 1068.15L183 1067.37L184 1066.6L185 1065.85L186 1065.11L187 1064.38L188 1063.67L189 1062.98L190 1062.3L191 1061.63L192 1060.98L193 1060.34L194 1059.72L195 1059.12L196 1058.53L197 1057.95L198 1057.39L199 1056.85L200 1056.33L201 1055.82L202 1055.32L203 1054.85L204 1054.38L205 1053.94L206 1053.51L207 1053.1L208 1052.71L209 1052.33L210 1051.97L211 1051.62L212 1051.29L213 1050.98L214 1050.68L215 1050.4L216 1050.14L217 1049.9L218 1049.66L219 1049.45L220 1049.25L221 1049.07L222 1048.91L223 1048.76L224 1048.62L225 1048.51L226 1048.4L227 1048.32L228 1048.25L229 1048.19L230 1048.15L231 1048.13L232 1048.12L233 1048.13L234 1048.15L235 1048.19L236 1048.24L237 1048.31L238 1048.39L239 1048.49L240 1048.6L241 1048.73L242 1048.87L243 1049.02L244 1049.19L245 1049.38L246 1049.58L247 1049.79L248 1050.02L249 1050.26L250 1050.52L251 1050.79L252 1051.07L253 1051.37L254 1051.68L255 1052L256 1052.34L257 1052.69L258 1053.05L259 1053.43L260 1053.82L261 1054.22L262 1054.63L263 1055.06L264 1055.5L265 1055.96L266 1056.42L267 1056.9L268 1057.39L269 1057.89L270 1058.4L271 1058.93L272 1059.47L273 1060.01L274 1060.57L275 1061.14L276 1061.73L277 1062.32L278 1062.93L279 1063.54L280 1064.17L281 1064.81L282 1065.45L283 1066.11L284 1066.78L285 1067.46L286 1068.15L287 1068.85L288 1069.56L289 1070.28L290 1071.01L291 1071.75L292 1072.5L293 1073.26L294 1074.03L295 1074.81L296 1075.59L297 1076.39L298 1077.2L299 1078.01L300 1078.83L301 1079.66L302 1080.5L303 1081.35L304 1082.2L305 1083.07L306 1083.94L307 1084.82L308 1085.7L309 1086.6L310 1087.5L311 1088.4L312 1089.32L313 1090.24L314 1091.16L315 1092.1L316 1093.03L317 1093.98L318 1094.93L319 1095.88L320 1096.84L321 1097.8L322 1098.77L323 1099.74L324 1100.71L325 1101.69L326 1102.67L327 1103.66L328 1104.64L329 1105.63L330 1106.62L331 1107.61L332 1108.6L333 1109.6L334 1110.59L335 1111.58L336 1112.57L337 1113.57L338 1114.56L339 1115.54L340 1116.53L341 1117.51L342 1118.5L343 1119.47L344 1120.45L345 1121.42L346 1122.38L347 1123.34L348 1124.3L349 1125.25L350 1126.19L351 1127.12L352 1128.05L353 1128.97L354 1129.89L355 1130.79L356 1131.69L357 1132.57L358 1133.45L359 1134.32L360 1135.17L361 1136.02L362 1136.85L363 1137.67L364 1138.48L365 1139.28L366 1140.06L367 1140.83L368 1141.59L369 1142.33L370 1143.06L371 1143.77L372 1144.47L373 1145.15L374 1145.82L375 1146.47L376 1147.1L377 1147.72L378 1148.32L379 1148.9L380 1149.47L381 1150.01L382 1150.54L383 1151.05L384 1151.54L385 1152.01L386 1152.46L387 1152.9L388 1153.31L389 1153.71L390 1154.08L391 1154.44L392 1154.77L393 1155.09L394 1155.38L395 1155.65L396 1155.91L397 1156.14L398 1156.36L399 1156.55L400 1156.72L401 1156.87L402 1157.01L403 1157.12L404 1157.21L405 1157.28L406 1157.33L407 1157.37L408 1157.38L409 1157.37L410 1157.35L411 1157.3L412 1157.24L413 1157.15L414 1157.05L415 1156.93L416 1156.79L417 1156.64L418 1156.46L419 1156.27L420 1156.06L421 1155.84L422 1155.59L423 1155.33L424 1155.06L425 1154.76L426 1154.45L427 1154.13L428 1153.79L429 1153.44L430 1153.06L431 1152.68L432 1152.28L433 1151.86L434 1151.44L435 1150.99L436 1150.53L437 1150.06L438 1149.58L439 1149.08L440 1148.57L441 1148.05L442 1147.51L443 1146.96L444 1146.4L445 1145.82L446 1145.23L447 1144.64L448 1144.02L449 1143.4L450 1142.77L451 1142.12L452 1141.46L453 1140.79L454 1140.12L455 1139.42L456 1138.72L457 1138.01L458 1137.29L459 1136.56L460 1135.81L461 1135.06L462 1134.3L463 1133.52L464 1132.74L465 1131.95L466 1131.15L467 1130.33L468 1129.51L469 1128.69L470 1127.85L471 1127L472 1126.15L473 1125.28L474 1124.41L475 1123.54L476 1122.65L477 1121.76L478 1120.86L479 1119.95L480 1119.03L481 1118.11L482 1117.19L483 1116.25L484 1115.31L485 1114.37L486 1113.42L487 1112.46L488 1111.5L489 1110.54L490 1109.57L491 1108.6L492 1107.62L493 1106.65L494 1105.66L495 1104.68L496 1103.69L497 1102.7L498 1101.71L499 1100.72L500 1099.73L501 1098.74L502 1097.75L503 1096.75L504 1095.76L505 1094.77L506 1093.78L507 1092.8L508 1091.81L509 1090.83L510 1089.85L511 1088.87L512 1087.9L513 1086.93L514 1085.97L515 1085.01L516 1084.06L517 1083.11L518 1082.17L519 1081.23L520 1080.3L521 1079.38L522 1078.47L523 1077.57L524 1076.67L525 1075.79L526 1074.91L527 1074.04L528 1073.18L529 1072.34L530 1071.5L531 1070.68L532 1069.86L533 1069.06L534 1068.27L535 1067.49L536 1066.73L537 1065.98L538 1065.24L539 1064.51L540 1063.8L541 1063.11L542 1062.42L543 1061.76L544 1061.1L545 1060.46L546 1059.84L547 1059.23L548 1058.64L549 1058.06L550 1057.5L551 1056.96L552 1056.43L553 1055.92L554 1055.42L555 1054.94L556 1054.47L557 1054.03L558 1053.6L559 1053.18L560 1052.78L561 1052.4L562 1052.04L563 1051.69L564 1051.36L565 1051.04L566 1050.74L567 1050.46L568 1050.19L569 1049.94L570 1049.71L571 1049.49L572 1049.29L573 1049.11L574 1048.94L575 1048.79L576 1048.65L577 1048.53L578 1048.42L579 1048.33L580 1048.26L581 1048.2L582 1048.16L583 1048.13L584 1048.12L585 1048.13L586 1048.14L587 1048.18L588 1048.23L589 1048.29L590 1048.37L591 1048.47L592 1048.58L593 1048.7L594 1048.84L595 1048.99L596 1049.16L597 1049.34L598 1049.54L599 1049.75L600 1049.97L601 1050.21L602 1050.46L603 1050.73L604 1051.01L605 1051.3L606 1051.61L607 1051.93L608 1052.27L609 1052.62L610 1052.98L611 1053.35L612 1053.74L613 1054.14L614 1054.55L615 1054.98L616 1055.41L617 1055.86L618 1056.33L619 1056.8L620 1057.29L621 1057.79L622 1058.3L623 1058.82L624 1059.36L625 1059.9L626 1060.46L627 1061.03L628 1061.61L629 1062.2L630 1062.8L631 1063.42L632 1064.04L633 1064.68L634 1065.32L635 1065.98L636 1066.65L637 1067.33L638 1068.01L639 1068.71L640 1069.42L641 1070.14L642 1070.87L643 1071.6L644 1072.35L645 1073.11L646 1073.88L647 1074.65L648 1075.44L649 1076.23L650 1077.03L651 1077.85L652 1078.67L653 1079.49L654 1080.33L655 1081.18L656 1082.03L657 1082.89L658 1083.76L659 1084.64L660 1085.53L661 1086.42L662 1087.32L663 1088.22L664 1089.13L665 1090.05L666 1090.98L667 1091.91L668 1092.85L669 1093.79L670 1094.74L671 1095.69L672 1096.65L673 1097.61L674 1098.58L675 1099.55L676 1100.52L677 1101.5L678 1102.48L679 1103.46L680 1104.45L681 1105.43L682 1106.42L683 1107.41L684 1108.41L685 1109.4L686 1110.39L687 1111.38L688 1112.38L689 1113.37L690 1114.36L691 1115.35L692 1116.33L693 1117.32L694 1118.3L695 1119.28L696 1120.25L697 1121.22L698 1122.19L699 1123.15L700 1124.11L701 1125.06L702 1126L703 1126.94L704 1127.87L705 1128.79L706 1129.71L707 1130.61L708 1131.51L709 1132.4L710 1133.28L711 1134.14L712 1135L713 1135.85L714 1136.69L715 1137.51L716 1138.32L717 1139.12L718 1139.91L719 1140.68L720 1141.44L721 1142.19L722 1142.92L723 1143.63L724 1144.33L725 1145.02L726 1145.69L727 1146.34L728 1146.98L729 1147.6L730 1148.2L731 1148.79L732 1149.35L733 1149.9L734 1150.44L735 1150.95L736 1151.44L737 1151.92L738 1152.38L739 1152.81L740 1153.23L741 1153.63L742 1154.01L743 1154.37L744 1154.71L745 1155.02L746 1155.32L747 1155.6L748 1155.86L749 1156.1L750 1156.31L751 1156.51L752 1156.69L753 1156.84L754 1156.98L755 1157.1L756 1157.19L757 1157.27L758 1157.32L759 1157.36L760 1157.38L761 1157.37L762 1157.35L763 1157.31L764 1157.25L765 1157.17L766 1157.07L767 1156.96L768 1156.82L769 1156.67L770 1156.5L771 1156.31L772 1156.1L773 1155.88L774 1155.64L775 1155.39L776 1155.11L777 1154.82L778 1154.52L779 1154.2L780 1153.86L781 1153.51L782 1153.14L783 1152.76L784 1152.36L785 1151.95L786 1151.52L787 1151.08L788 1150.63L789 1150.16L790 1149.68L791 1149.18L792 1148.67L793 1148.15L794 1147.62L795 1147.07L796 1146.51L797 1145.94L798 1145.35L799 1144.76L800 1144.15L801 1143.53L802 1142.89L803 1142.25L804 1141.6L805 1140.93L806 1140.25L807 1139.56L808 1138.86L809 1138.15L810 1137.43L811 1136.7L812 1135.96L813 1135.21L814 1134.45L815 1133.68L816 1132.9L817 1132.11L818 1131.31L819 1130.5L820 1129.68L821 1128.85L822 1128.02L823 1127.17L824 1126.32L825 1125.46L826 1124.59L827 1123.71L828 1122.83L829 1121.94L830 1121.04L831 1120.13L832 1119.22L833 1118.3L834 1117.37L835 1116.44L836 1115.5L837 1114.56L838 1113.61L839 1112.66L840 1111.7L841 1110.73L842 1109.77L843 1108.79L844 1107.82L845 1106.84L846 1105.93L847 1105.93L848 1105.93L849 1105.93L850 1105.93L851 1105.93L852 1105.93L852.6 1105.93L852.6 1113.73L852 1113.73L851 1113.73L850 1113.73L849 1113.73L848 1117.75L847 1118.71L846 1119.66L845 1120.61L844 1121.55L843 1122.48L842 1123.41L841 1124.34L840 1125.26L839 1126.17L838 1127.07L837 1127.97L836 1128.86L835 1129.75L834 1130.62L833 1131.49L832 1132.35L831 1133.21L830 1134.05L829 1134.89L828 1135.72L827 1136.54L826 1137.35L825 1138.15L824 1138.94L823 1139.73L822 1140.5L821 1141.27L820 1142.02L819 1142.77L818 1143.51L817 1144.23L816 1144.95L815 1145.66L814 1146.36L813 1147.04L812 1147.72L811 1148.39L810 1149.04L809 1149.69L808 1150.32L807 1150.94L806 1151.56L805 1152.16L804 1152.75L803 1153.33L802 1153.9L801 1154.45L800 1155L799 1155.53L798 1156.05L797 1156.56L796 1157.06L795 1157.55L794 1158.02L793 1158.48L792 1158.93L791 1159.37L790 1159.79L789 1160.2L788 1160.6L787 1160.99L786 1161.36L785 1161.72L784 1162.07L783 1162.4L782 1162.72L781 1163.03L780 1163.32L779 1163.6L778 1163.86L777 1164.11L776 1164.35L775 1164.57L774 1164.78L773 1164.98L772 1165.16L771 1165.33L770 1165.48L769 1165.61L768 1165.74L767 1165.84L766 1165.94L765 1166.01L764 1166.08L763 1166.13L762 1166.16L761 1166.18L760 1166.18L759 1166.16L758 1166.14L757 1166.09L756 1166.03L755 1165.96L754 1165.87L753 1165.76L752 1165.64L751 1165.5L750 1165.35L749 1165.18L748 1164.99L747 1164.79L746 1164.57L745 1164.33L744 1164.08L743 1163.81L742 1163.53L741 1163.23L740 1162.91L739 1162.58L738 1162.23L737 1161.86L736 1161.48L735 1161.08L734 1160.66L733 1160.23L732 1159.78L731 1159.31L730 1158.83L729 1158.33L728 1157.82L727 1157.29L726 1156.74L725 1156.18L724 1155.6L723 1155.01L722 1154.4L721 1153.77L720 1153.13L719 1152.48L718 1151.81L717 1151.12L716 1150.43L715 1149.71L714 1148.99L713 1148.25L712 1147.5L711 1146.73L710 1145.95L709 1145.16L708 1144.36L707 1143.54L706 1142.72L705 1141.88L704 1141.03L703 1140.17L702 1139.3L701 1138.43L700 1137.54L699 1136.64L698 1135.74L697 1134.82L696 1133.9L695 1132.97L694 1132.04L693 1131.1L692 1130.15L691 1129.2L690 1128.24L689 1127.27L688 1126.3L687 1125.33L686 1124.35L685 1123.37L684 1122.39L683 1121.41L682 1120.42L681 1119.43L680 1118.44L679 1117.45L678 1116.45L677 1115.46L676 1114.47L675 1113.48L674 1112.49L673 1111.5L672 1110.51L671 1109.52L670 1108.54L669 1107.56L668 1106.58L667 1105.6L666 1104.63L665 1103.66L664 1102.7L663 1101.74L662 1100.79L661 1099.84L660 1098.89L659 1097.95L658 1097.02L657 1096.1L656 1095.17L655 1094.26L654 1093.35L653 1092.45L652 1091.56L651 1090.68L650 1089.8L649 1088.93L648 1088.07L647 1087.21L646 1086.37L645 1085.53L644 1084.7L643 1083.88L642 1083.07L641 1082.27L640 1081.48L639 1080.7L638 1079.93L637 1079.17L636 1078.41L635 1077.67L634 1076.94L633 1076.22L632 1075.51L631 1074.81L630 1074.12L629 1073.44L628 1072.77L627 1072.11L626 1071.47L625 1070.84L624 1070.21L623 1069.6L622 1069.01L621 1068.42L620 1067.85L619 1067.29L618 1066.74L617 1066.2L616 1065.68L615 1065.17L614 1064.67L613 1064.19L612 1063.72L611 1063.26L610 1062.82L609 1062.39L608 1061.98L607 1061.58L606 1061.2L605 1060.83L604 1060.47L603 1060.14L602 1059.81L601 1059.51L600 1059.22L599 1058.94L598 1058.68L597 1058.44L596 1058.22L595 1058.01L594 1057.82L593 1057.65L592 1057.49L591 1057.36L590 1057.24L589 1057.14L588 1057.06L587 1056.99L586 1056.95L585 1056.93L584 1056.92L583 1056.94L582 1056.97L581 1057.02L580 1057.1L579 1057.19L578 1057.31L577 1057.44L576 1057.6L575 1057.77L574 1057.97L573 1058.18L572 1058.42L571 1058.67L570 1058.95L569 1059.25L568 1059.56L567 1059.9L566 1060.26L565 1060.63L564 1061.03L563 1061.44L562 1061.88L561 1062.33L560 1062.81L559 1063.3L558 1063.81L557 1064.34L556 1064.89L555 1065.46L554 1066.04L553 1066.64L552 1067.26L551 1067.89L550 1068.55L549 1069.21L548 1069.9L547 1070.6L546 1071.31L545 1072.04L544 1072.78L543 1073.54L542 1074.31L541 1075.1L540 1075.9L539 1076.71L538 1077.53L537 1078.37L536 1079.21L535 1080.07L534 1080.94L533 1081.81L532 1082.7L531 1083.6L530 1084.5L529 1085.42L528 1086.34L527 1087.27L526 1088.21L525 1089.15L524 1090.1L523 1091.05L522 1092.01L521 1092.98L520 1093.95L519 1094.92L518 1095.9L517 1096.88L516 1097.87L515 1098.85L514 1099.84L513 1100.83L512 1101.82L511 1102.82L510 1103.81L509 1104.8L508 1105.8L507 1106.79L506 1107.78L505 1108.77L504 1109.76L503 1110.74L502 1111.72L501 1112.71L500 1113.68L499 1114.66L498 1115.63L497 1116.59L496 1117.56L495 1118.52L494 1119.47L493 1120.42L492 1121.36L491 1122.3L490 1123.23L489 1124.15L488 1125.07L487 1125.99L486 1126.89L485 1127.79L484 1128.69L483 1129.57L482 1130.45L481 1131.32L480 1132.18L479 1133.04L478 1133.88L477 1134.72L476 1135.55L475 1136.37L474 1137.19L473 1137.99L472 1138.78L471 1139.57L470 1140.35L469 1141.11L468 1141.87L467 1142.62L466 1143.36L465 1144.09L464 1144.81L463 1145.52L462 1146.22L461 1146.91L460 1147.58L459 1148.25L458 1148.91L457 1149.56L456 1150.19L455 1150.82L454 1151.43L453 1152.04L452 1152.63L451 1153.21L450 1153.78L449 1154.34L448 1154.89L447 1155.42L446 1155.95L445 1156.46L444 1156.96L443 1157.45L442 1157.93L441 1158.39L440 1158.84L439 1159.28L438 1159.71L437 1160.12L436 1160.52L435 1160.91L434 1161.29L433 1161.65L432 1162L431 1162.33L430 1162.66L429 1162.97L428 1163.26L427 1163.54L426 1163.81L425 1164.06L424 1164.3L423 1164.53L422 1164.74L421 1164.94L420 1165.12L419 1165.29L418 1165.45L417 1165.59L416 1165.71L415 1165.82L414 1165.92L413 1166L412 1166.07L411 1166.12L410 1166.15L409 1166.17L408 1166.18L407 1166.17L406 1166.14L405 1166.1L404 1166.05L403 1165.97L402 1165.89L401 1165.78L400 1165.66L399 1165.53L398 1165.38L397 1165.21L396 1165.03L395 1164.83L394 1164.61L393 1164.38L392 1164.13L391 1163.87L390 1163.59L389 1163.29L388 1162.98L387 1162.65L386 1162.3L385 1161.94L384 1161.56L383 1161.16L382 1160.75L381 1160.32L380 1159.87L379 1159.41L378 1158.93L377 1158.43L376 1157.92L375 1157.4L374 1156.85L373 1156.29L372 1155.72L371 1155.13L370 1154.52L369 1153.9L368 1153.26L367 1152.61L366 1151.94L365 1151.26L364 1150.57L363 1149.86L362 1149.13L361 1148.4L360 1147.65L359 1146.88L358 1146.11L357 1145.32L356 1144.52L355 1143.71L354 1142.88L353 1142.05L352 1141.2L351 1140.34L350 1139.48L349 1138.6L348 1137.72L347 1136.82L346 1135.92L345 1135.01L344 1134.09L343 1133.16L342 1132.23L341 1131.29L340 1130.34L339 1129.39L338 1128.43L337 1127.47L336 1126.5L335 1125.53L334 1124.55L333 1123.57L332 1122.59L331 1121.6L330 1120.62L329 1119.63L328 1118.64L327 1117.65L326 1116.65L325 1115.66L324 1114.67L323 1113.68L322 1112.68L321 1111.69L320 1110.71L319 1109.72L318 1108.73L317 1107.75L316 1106.77L315 1105.8L314 1104.83L313 1103.86L312 1102.89L311 1101.93L310 1100.98L309 1100.03L308 1099.08L307 1098.14L306 1097.21L305 1096.28L304 1095.36L303 1094.44L302 1093.53L301 1092.63L300 1091.74L299 1090.85L298 1089.97L297 1089.1L296 1088.24L295 1087.38L294 1086.54L293 1085.7L292 1084.87L291 1084.05L290 1083.24L289 1082.43L288 1081.64L287 1080.86L286 1080.08L285 1079.32L284 1078.56L283 1077.82L282 1077.08L281 1076.36L280 1075.65L279 1074.95L278 1074.25L277 1073.57L276 1072.9L275 1072.24L274 1071.6L273 1070.96L272 1070.34L271 1069.73L270 1069.12L269 1068.54L268 1067.96L267 1067.4L266 1066.85L265 1066.31L264 1065.78L263 1065.27L262 1064.77L261 1064.28L260 1063.81L259 1063.35L258 1062.91L257 1062.48L256 1062.06L255 1061.66L254 1061.27L253 1060.9L252 1060.54L251 1060.2L250 1059.88L249 1059.57L248 1059.27L247 1058.99L246 1058.73L245 1058.49L244 1058.26L243 1058.05L242 1057.86L241 1057.68L240 1057.52L239 1057.38L238 1057.26L237 1057.16L236 1057.07L235 1057.01L234 1056.96L233 1056.93L232 1056.92L231 1056.93L230 1056.96L229 1057.01L228 1057.08L227 1057.17L226 1057.28L225 1057.41L224 1057.56L223 1057.73L222 1057.92L221 1058.14L220 1058.37L219 1058.62L218 1058.89L217 1059.18L216 1059.5L215 1059.83L214 1060.18L213 1060.56L212 1060.95L211 1061.36L210 1061.79L209 1062.24L208 1062.71L207 1063.2L206 1063.71L205 1064.23L204 1064.78L203 1065.34L202 1065.92L201 1066.52L200 1067.13L199 1067.77L198 1068.42L197 1069.08L196 1069.76L195 1070.46L194 1071.17L193 1071.9L192 1072.64L191 1073.4L190 1074.17L189 1074.95L188 1075.75L187 1076.56L186 1077.38L185 1078.22L184 1079.06L183 1079.92L182 1080.79L181 1081.68L180 1082.57L179 1083.48L178 1084.39L177 1085.32L176 1086.26L175 1087.21L174 1088.17L173 1089.14L172 1090.12L171 1091.12L170 1092.13L169 1093.16L168 1094.2L167 1095.25L166 1096.33L165 1097.42L164 1098.53L163 1099.67L162 1100.82L161 1102L160 1103.19L159 1104.41L158 1105.64L157 1106.88L156 1108.11L155 1108.98L154 1109.81L153 1110.57L152 1111.22L151 1111.67L150 1111.42L149 1111.2L148 1111.01L147 1110.85L146 1110.74L145.5 1110.01L145 1109.9L144.5 1109.71L144 1109.42L143.5 1109.02L143 1108.46L142.5 1107.63L142 1105.35Z" fill="#a2142f"/>
<text transform="translate(144 1225.4) scale(0.995 1.046)" font-size="33.5" text-anchor="middle">0</text>
<text transform="translate(320.1 1225.4) scale(0.995 1.046)" font-size="33.5" text-anchor="middle">0.01</text>
<text transform="translate(496.2 1225.4) scale(0.995 1.046)" font-size="33.5" text-anchor="middle">0.02</text>
<text transform="translate(672.3 1225.4) scale(0.995 1.046)" font-size="33.5" text-anchor="middle">0.03</text>
<text transform="translate(848.4 1225.4) scale(0.995 1.046)" font-size="33.5" text-anchor="middle">0.04</text>
<text transform="translate(132.5 1044.18) scale(0.995 1.046)" font-size="33.5" text-anchor="end">10</text>
<text transform="translate(132.5 1120.13) scale(0.995 1.046)" font-size="33.5" text-anchor="end">0</text>
<text transform="translate(132.5 1196.08) scale(0.995 1.046)" font-size="33.5" text-anchor="end">-10</text>
<text transform="translate(58.2 1107.85) scale(0.966 0.982) rotate(-90)" text-anchor="middle" font-size="37.6"><tspan font-style="italic">I</tspan><tspan font-size="30.3" dy="19.55">OUT</tspan><tspan dy="-19.55">(A)</tspan></text>
<rect x="144" y="1253.7" width="706.5" height="157.5" fill="none" stroke="#262626" stroke-width="2.3"/>
<path d="M320.62 1411.2v-7M320.62 1253.7v7M497.25 1411.2v-7M497.25 1253.7v7M673.88 1411.2v-7M673.88 1253.7v7M144 1332.45h7M850.5 1332.45h-7" stroke="#262626" stroke-width="2.07" fill="none"/>
<path d="M144 1331.81L145.01 1331.77L146.02 1331.89L147.03 1331.75L148.04 1331.86L149.05 1331.82L150.06 1331.75L151.06 1331.86L152.07 1331.75L153.08 1331.85L154.09 1331.76L155.1 1331.77L156.11 1331.85L157.12 1331.95L158.13 1331.79L159.14 1331.82L160.15 1331.92L161.16 1332L162.17 1331.92L163.18 1331.88L164.19 1332.02L165.19 1331.8L166.2 1332.01L167.21 1331.88L168.22 1331.85L169.23 1331.85L170.24 1331.9L171.25 1332.03L172.26 1331.88L173.27 1331.99L174.28 1332.01L175.29 1331.96L176.3 1332.01L177.31 1331.9L178.32 1331.91L179.32 1331.95L180.33 1332.07L181.34 1332.02L182.35 1332.01L183.36 1332.08L184.37 1332.06L185.38 1332.03L186.39 1332.16L187.4 1332.15L188.41 1332.06L189.42 1332.15L190.43 1332.15L191.44 1332.24L192.45 1332.22L193.45 1332.13L194.46 1332.3L195.47 1332.11L196.48 1332.19L197.49 1332.29L198.5 1332.16L199.51 1332.25L200.52 1332.16L201.53 1332.32L202.54 1332.36L203.55 1332.33L204.56 1332.41L205.57 1332.29L206.58 1332.4L207.59 1332.39L208.59 1332.4L209.6 1332.39L210.61 1332.49L211.62 1332.53L212.63 1332.44L213.64 1332.5L214.65 1332.37L215.66 1332.54L216.67 1332.54L217.68 1332.64L218.69 1332.61L219.7 1332.5L220.71 1332.54L221.72 1332.62L222.72 1332.48L223.73 1332.6L224.74 1332.55L225.75 1332.55L226.76 1332.56L227.77 1332.74L228.78 1332.6L229.79 1332.65L230.8 1332.7L231.81 1332.83L232.82 1332.66L233.83 1332.76L234.84 1332.8L235.84 1332.9L236.85 1332.9L237.86 1332.93L238.87 1332.8L239.88 1332.85L240.89 1332.85L241.9 1332.99L242.91 1333.03L243.92 1332.85L244.93 1332.87L245.94 1332.9L246.95 1332.92L247.96 1332.99L248.97 1333.03L249.97 1332.97L250.98 1332.92L251.99 1333.04L253 1333.04L254.01 1333.1L255.02 1333.21L256.03 1333.16L257.04 1333.14L258.05 1333.18L259.06 1333.2L260.07 1333.07L261.08 1333.29L262.09 1333.27L263.1 1333.31L264.11 1333.3L265.11 1333.22L266.12 1333.23L267.13 1333.18L268.14 1333.32L269.15 1333.19L270.16 1333.21L271.17 1333.25L272.18 1333.25L273.19 1333.31L274.2 1333.25L275.21 1333.25L276.22 1333.3L277.23 1333.3L278.24 1333.37L279.24 1333.3L280.25 1333.52L281.26 1333.47L282.27 1333.36L283.28 1333.4L284.29 1333.43L285.3 1333.45L286.31 1333.4L287.32 1333.58L288.33 1333.62L289.34 1333.51L290.35 1333.52L291.36 1333.43L292.37 1333.44L293.37 1333.51L294.38 1333.5L295.39 1333.64L296.4 1333.49L297.41 1333.46L298.42 1333.69L299.43 1333.59L300.44 1333.51L301.45 1333.61L302.46 1333.49L303.47 1333.62L304.48 1333.73L305.49 1333.7L306.5 1333.67L307.5 1333.57L308.51 1333.6L309.52 1333.55L310.53 1333.7L311.54 1333.65L312.55 1333.71L313.56 1333.6L314.57 1333.58L315.58 1333.72L316.59 1333.76L317.6 1333.73L318.61 1333.72L319.62 1333.73L320.62 1333.71L321.63 1333.58L322.64 1333.65L323.65 1333.61L324.66 1333.53L325.67 1333.53L326.68 1333.59L327.69 1333.59L328.7 1333.69L329.71 1333.75L330.72 1333.62L331.73 1333.74L332.74 1333.75L333.75 1333.73L334.75 1333.59L335.76 1333.55L336.77 1333.55L337.78 1333.54L338.79 1333.53L339.8 1333.63L340.81 1333.69L341.82 1333.67L342.83 1333.58L343.84 1333.61L344.85 1333.64L345.86 1333.46L346.87 1333.59L347.88 1333.64L348.88 1333.61L349.89 1333.59L350.9 1333.52L351.91 1333.44L352.92 1333.57L353.93 1333.46L354.94 1333.56L355.95 1333.59L356.96 1333.44L357.97 1333.43L358.98 1333.56L359.99 1333.49L361 1333.35L362.01 1333.33L363.01 1333.32L364.02 1333.49L365.03 1333.46L366.04 1333.29L367.05 1333.44L368.06 1333.46L369.07 1333.37L370.08 1333.29L371.09 1333.32L372.1 1333.21L373.11 1333.17L374.12 1333.39L375.13 1333.3L376.14 1333.25L377.14 1333.34L378.15 1333.2L379.16 1333.29L380.17 1333.27L381.18 1333.11L382.19 1333.1L383.2 1333.1L384.21 1333.07L385.22 1333.14L386.23 1333.05L387.24 1333.07L388.25 1332.99L389.26 1333.16L390.27 1333.01L391.27 1333.02L392.28 1333.03L393.29 1333.09L394.3 1332.96L395.31 1333.07L396.32 1332.95L397.33 1332.94L398.34 1332.92L399.35 1332.79L400.36 1332.87L401.37 1332.79L402.38 1332.74L403.39 1332.91L404.4 1332.74L405.4 1332.8L406.41 1332.84L407.42 1332.79L408.43 1332.72L409.44 1332.75L410.45 1332.74L411.46 1332.78L412.47 1332.6L413.48 1332.69L414.49 1332.6L415.5 1332.59L416.51 1332.69L417.52 1332.62L418.53 1332.61L419.54 1332.64L420.54 1332.66L421.55 1332.54L422.56 1332.56L423.57 1332.52L424.58 1332.51L425.59 1332.53L426.6 1332.46L427.61 1332.46L428.62 1332.44L429.63 1332.53L430.64 1332.46L431.65 1332.49L432.66 1332.49L433.67 1332.31L434.67 1332.37L435.68 1332.44L436.69 1332.41L437.7 1332.22L438.71 1332.2L439.72 1332.27L440.73 1332.17L441.74 1332.19L442.75 1332.14L443.76 1332.27L444.77 1332.28L445.78 1332.3L446.79 1332.11L447.8 1332.23L448.8 1332.2L449.81 1332.07L450.82 1332.23L451.83 1332.24L452.84 1332.05L453.85 1332.21L454.86 1332.07L455.87 1332.08L456.88 1332.19L457.89 1332.14L458.9 1331.97L459.91 1332.02L460.92 1332.04L461.93 1331.98L462.93 1331.94L463.94 1331.96L464.95 1332.05L465.96 1331.87L466.97 1331.99L467.98 1331.95L468.99 1331.85L470 1331.91L471.01 1331.98L472.02 1331.94L473.03 1331.83L474.04 1332.04L475.05 1331.99L476.06 1332.03L477.06 1331.81L478.07 1331.85L479.08 1331.79L480.09 1331.96L481.1 1331.83L482.11 1331.79L483.12 1331.86L484.13 1331.97L485.14 1331.95L486.15 1331.81L487.16 1331.78L488.17 1331.96L489.18 1331.88L490.19 1331.91L491.19 1331.76L492.2 1331.75L493.21 1331.9L494.22 1331.83L495.23 1331.75L496.24 1331.96L497.25 1331.88L498.26 1331.92L499.27 1331.75L500.28 1331.94L501.29 1331.75L502.3 1331.94L503.31 1331.84L504.31 1331.82L505.32 1331.87L506.33 1331.96L507.34 1331.81L508.35 1331.78L509.36 1331.88L510.37 1331.81L511.38 1331.78L512.39 1331.8L513.4 1331.78L514.41 1331.82L515.42 1331.85L516.43 1331.86L517.44 1331.97L518.44 1331.86L519.45 1331.92L520.46 1331.85L521.47 1331.9L522.48 1331.82L523.49 1331.89L524.5 1331.84L525.51 1332.02L526.52 1331.98L527.53 1331.9L528.54 1331.98L529.55 1332.1L530.56 1331.91L531.57 1332.09L532.58 1332.01L533.58 1332.03L534.59 1332.12L535.6 1332.03L536.61 1332.06L537.62 1332.12L538.63 1332.2L539.64 1332.06L540.65 1332.18L541.66 1332.17L542.67 1332.16L543.68 1332.12L544.69 1332.12L545.7 1332.06L546.7 1332.09L547.71 1332.09L548.72 1332.26L549.73 1332.16L550.74 1332.15L551.75 1332.14L552.76 1332.34L553.77 1332.36L554.78 1332.32L555.79 1332.24L556.8 1332.25L557.81 1332.27L558.82 1332.33L559.83 1332.27L560.84 1332.35L561.84 1332.32L562.85 1332.51L563.86 1332.52L564.87 1332.44L565.88 1332.38L566.89 1332.57L567.9 1332.43L568.91 1332.45L569.92 1332.38L570.93 1332.49L571.94 1332.53L572.95 1332.55L573.96 1332.49L574.96 1332.58L575.97 1332.48L576.98 1332.56L577.99 1332.53L579 1332.62L580.01 1332.55L581.02 1332.56L582.03 1332.65L583.04 1332.65L584.05 1332.75L585.06 1332.75L586.07 1332.82L587.08 1332.81L588.09 1332.84L589.1 1332.9L590.1 1332.8L591.11 1332.8L592.12 1332.97L593.13 1332.79L594.14 1332.94L595.15 1332.94L596.16 1332.81L597.17 1333.01L598.18 1333.04L599.19 1333L600.2 1333.04L601.21 1333.07L602.22 1332.93L603.23 1333.03L604.23 1333.04L605.24 1333.14L606.25 1333.15L607.26 1333.17L608.27 1333.12L609.28 1333.21L610.29 1333.18L611.3 1333.19L612.31 1333.1L613.32 1333.06L614.33 1333.1L615.34 1333.17L616.35 1333.12L617.36 1333.31L618.36 1333.26L619.37 1333.29L620.38 1333.3L621.39 1333.33L622.4 1333.3L623.41 1333.19L624.42 1333.4L625.43 1333.4L626.44 1333.35L627.45 1333.37L628.46 1333.41L629.47 1333.28L630.48 1333.45L631.49 1333.35L632.49 1333.31L633.5 1333.37L634.51 1333.49L635.52 1333.38L636.53 1333.52L637.54 1333.58L638.55 1333.48L639.56 1333.46L640.57 1333.49L641.58 1333.55L642.59 1333.58L643.6 1333.55L644.61 1333.57L645.62 1333.44L646.62 1333.46L647.63 1333.49L648.64 1333.62L649.65 1333.52L650.66 1333.59L651.67 1333.46L652.68 1333.48L653.69 1333.54L654.7 1333.64L655.71 1333.65L656.72 1333.65L657.73 1333.56L658.74 1333.62L659.75 1333.61L660.75 1333.62L661.76 1333.54L662.77 1333.73L663.78 1333.56L664.79 1333.75L665.8 1333.75L666.81 1333.53L667.82 1333.63L668.83 1333.72L669.84 1333.76L670.85 1333.64L671.86 1333.59L672.87 1333.58L673.88 1333.76L674.88 1333.58L675.89 1333.67L676.9 1333.56L677.91 1333.65L678.92 1333.76L679.93 1333.56L680.94 1333.72L681.95 1333.64L682.96 1333.73L683.97 1333.68L684.98 1333.57L685.99 1333.72L687 1333.62L688 1333.51L689.01 1333.5L690.02 1333.61L691.03 1333.6L692.04 1333.56L693.05 1333.51L694.06 1333.56L695.07 1333.54L696.08 1333.66L697.09 1333.45L698.1 1333.63L699.11 1333.64L700.12 1333.46L701.13 1333.65L702.13 1333.59L703.14 1333.63L704.15 1333.47L705.16 1333.48L706.17 1333.48L707.18 1333.62L708.19 1333.51L709.2 1333.44L710.21 1333.45L711.22 1333.4L712.23 1333.34L713.24 1333.34L714.25 1333.51L715.26 1333.37L716.26 1333.51L717.27 1333.33L718.28 1333.33L719.29 1333.37L720.3 1333.29L721.31 1333.32L722.32 1333.45L723.33 1333.42L724.34 1333.39L725.35 1333.33L726.36 1333.38L727.37 1333.38L728.38 1333.27L729.39 1333.3L730.39 1333.12L731.4 1333.27L732.41 1333.19L733.42 1333.25L734.43 1333.21L735.44 1333.11L736.45 1333.04L737.46 1333.24L738.47 1333.03L739.48 1333.1L740.49 1333.05L741.5 1333.03L742.51 1333.12L743.52 1333.16L744.52 1332.97L745.53 1333.05L746.54 1332.95L747.55 1333L748.56 1332.94L749.57 1332.87L750.58 1332.85L751.59 1332.85L752.6 1333L753.61 1332.89L754.62 1332.8L755.63 1332.95L756.64 1332.96L757.65 1332.81L758.65 1332.72L759.66 1332.72L760.67 1332.68L761.68 1332.72L762.69 1332.64L763.7 1332.66L764.71 1332.65L765.72 1332.71L766.73 1332.77L767.74 1332.72L768.75 1332.62L769.76 1332.61L770.77 1332.62L771.78 1332.57L772.78 1332.54L773.79 1332.46L774.8 1332.5L775.81 1332.65L776.82 1332.43L777.83 1332.5L778.84 1332.52L779.85 1332.56L780.86 1332.39L781.87 1332.39L782.88 1332.37L783.89 1332.39L784.9 1332.38L785.91 1332.49L786.91 1332.45L787.92 1332.44L788.93 1332.22L789.94 1332.21L790.95 1332.36L791.96 1332.39L792.97 1332.28L793.98 1332.29L794.99 1332.13L796 1332.21L797.01 1332.33L798.02 1332.29L799.03 1332.29L800.04 1332.3L801.04 1332.12L802.05 1332.07L803.06 1332.07L804.07 1332.15L805.08 1332.17L806.09 1332.22L807.1 1332.16L808.11 1332.13L809.12 1332.15L810.13 1332.06L811.14 1332.07L812.15 1331.94L813.16 1332.11L814.17 1331.97L815.17 1332.12L816.18 1332.05L817.19 1331.96L818.2 1331.91L819.21 1331.93L820.22 1332.01L821.23 1332.02L822.24 1331.87L823.25 1331.85L824.26 1331.95L825.27 1331.96L826.28 1331.91L827.29 1331.86L828.3 1331.94L829.3 1331.8L830.31 1331.86L831.32 1331.89L832.33 1332.01L833.34 1331.93L834.35 1331.98L835.36 1331.88L836.37 1331.81L837.38 1331.81L838.39 1331.98L839.4 1331.92L840.41 1331.82L841.42 1331.75L842.43 1331.86L843.43 1331.9L844.44 1331.84L845.45 1331.8L846.46 1331.89L847.47 1331.95L848.48 1331.79L849.49 1331.74L850.5 1331.81" fill="none" stroke="#ff0000" stroke-width="3.5" stroke-dasharray="3 1 1.2 .8 5 .9 2 1.1 .8 .7 6 1" stroke-linejoin="round"/>
<ellipse cx="320.62" cy="1333.65" rx="3.6" ry="2.9" fill="#ff0000"/>
<ellipse cx="497.25" cy="1331.85" rx="3.6" ry="2.9" fill="#ff0000"/>
<ellipse cx="673.88" cy="1333.65" rx="3.6" ry="2.9" fill="#ff0000"/>
<rect x="141.8" y="1263.9" width="3.7" height="70.05" fill="#ff0000"/>
<text transform="translate(144 1453.8) scale(0.995 1.046)" font-size="33.5" text-anchor="middle">0</text>
<text transform="translate(320.62 1453.8) scale(0.995 1.046)" font-size="33.5" text-anchor="middle">0.01</text>
<text transform="translate(497.25 1453.8) scale(0.995 1.046)" font-size="33.5" text-anchor="middle">0.02</text>
<text transform="translate(673.88 1453.8) scale(0.995 1.046)" font-size="33.5" text-anchor="middle">0.03</text>
<text transform="translate(850.5 1453.8) scale(0.995 1.046)" font-size="33.5" text-anchor="middle">0.04</text>
<text transform="translate(132.5 1266.38) scale(0.995 1.046)" font-size="33.5" text-anchor="end">0.5</text>
<text transform="translate(132.5 1345.13) scale(0.995 1.046)" font-size="33.5" text-anchor="end">0</text>
<text transform="translate(132.5 1423.88) scale(0.995 1.046)" font-size="33.5" text-anchor="end">-0.5</text>
<text transform="translate(49.8 1333.05) scale(0.966 0.982) rotate(-90)" text-anchor="middle" font-size="37.6"><tspan font-style="italic">I</tspan><tspan font-size="30.3" dy="19.55">CMLC</tspan><tspan dy="-19.55">(A)</tspan></text>
<text transform="translate(498 1495.9) scale(0.966 0.982)" font-size="37.6" text-anchor="middle">Time (seconds)</text>
<text transform="translate(489.6 1559.8) scale(0.95 1.0)" font-size="34.7" text-anchor="middle" fill="#1a1a1a">(f)</text>
<rect x="192.3" y="1593.6" width="673.5" height="158.6" fill="none" stroke="#262626" stroke-width="2.3"/>
<path d="M360.68 1752.2v-7M360.68 1593.6v7M529.05 1752.2v-7M529.05 1593.6v7M697.42 1752.2v-7M697.42 1593.6v7M192.3 1672.9h7M865.8 1672.9h-7" stroke="#262626" stroke-width="2.07" fill="none"/>
<rect x="190.8" y="1592.6" width="170.27" height="81.2" fill="#0000ff"/>
<rect x="359.28" y="1671.5" width="169.87" height="82.1" fill="#0000ff"/>
<rect x="527.85" y="1592.6" width="169.98" height="81.2" fill="#0000ff"/>
<rect x="696.02" y="1671.5" width="170.98" height="82.1" fill="#0000ff"/>
<path d="M192.3 1674.3H865.8" stroke="#0000ff" stroke-width="1.4" stroke-dasharray="2.2 1.6" opacity="0.3"/>
<path d="M360.68 1671H865.8" stroke="#0000ff" stroke-width="1.4" stroke-dasharray="2.2 1.6" opacity="0.3"/>
<text transform="translate(192.3 1794.7) scale(0.959 1.095)" font-size="33.5" text-anchor="middle">0</text>
<text transform="translate(360.68 1794.7) scale(0.959 1.095)" font-size="33.5" text-anchor="middle">0.01</text>
<text transform="translate(529.05 1794.7) scale(0.959 1.095)" font-size="33.5" text-anchor="middle">0.02</text>
<text transform="translate(697.42 1794.7) scale(0.959 1.095)" font-size="33.5" text-anchor="middle">0.03</text>
<text transform="translate(865.8 1794.7) scale(0.959 1.095)" font-size="33.5" text-anchor="middle">0.04</text>
<text transform="translate(180.8 1606.81) scale(0.959 1.095)" font-size="33.5" text-anchor="end">400</text>
<text transform="translate(180.8 1686.11) scale(0.959 1.095)" font-size="33.5" text-anchor="end">0</text>
<text transform="translate(180.8 1765.41) scale(0.959 1.095)" font-size="33.5" text-anchor="end">-400</text>
<text transform="translate(107.7 1671.3) scale(0.943 0.984) rotate(-90)" text-anchor="middle" font-size="37.6"><tspan font-style="italic" font-size="35.3">V</tspan><tspan font-size="30.3" dy="19.55">OUT</tspan><tspan dy="-19.55">(V)</tspan></text>
<rect x="192.3" y="1823.7" width="671.8" height="147.1" fill="none" stroke="#262626" stroke-width="2.3"/>
<path d="M360.25 1970.8v-7M360.25 1823.7v7M528.2 1970.8v-7M528.2 1823.7v7M696.15 1970.8v-7M696.15 1823.7v7M192.3 1897.25h7M864.1 1897.25h-7" stroke="#262626" stroke-width="2.07" fill="none"/>
<path d="M190.3 1895.15L190.8 1892.71L191.3 1891.81L191.8 1891.21L192.3 1890.78L192.8 1890.47L193.3 1890.26L193.8 1890.14L194.3 1891.24L195.3 1891.17L196.3 1891.08L197.3 1890.95L198.3 1890.81L199.3 1890.64L200.3 1889.65L201.3 1888.44L202.3 1887.09L203.3 1885.64L204.3 1884.15L205.3 1882.88L206.3 1881.62L207.3 1880.37L208.3 1879.14L209.3 1877.94L210.3 1876.76L211.3 1875.62L212.3 1874.49L213.3 1873.39L214.3 1872.32L215.3 1871.27L216.3 1870.24L217.3 1869.24L218.3 1868.25L219.3 1867.28L220.3 1866.33L221.3 1865.39L222.3 1864.47L223.3 1863.57L224.3 1862.68L225.3 1861.81L226.3 1860.95L227.3 1860.11L228.3 1859.28L229.3 1858.47L230.3 1857.67L231.3 1856.88L232.3 1856.11L233.3 1855.36L234.3 1854.62L235.3 1853.89L236.3 1853.18L237.3 1852.49L238.3 1851.81L239.3 1851.15L240.3 1850.51L241.3 1849.88L242.3 1849.27L243.3 1848.67L244.3 1848.1L245.3 1847.54L246.3 1846.99L247.3 1846.47L248.3 1845.96L249.3 1845.47L250.3 1844.99L251.3 1844.54L252.3 1844.1L253.3 1843.68L254.3 1843.28L255.3 1842.9L256.3 1842.53L257.3 1842.18L258.3 1841.86L259.3 1841.54L260.3 1841.25L261.3 1840.98L262.3 1840.72L263.3 1840.48L264.3 1840.26L265.3 1840.06L266.3 1839.88L267.3 1839.71L268.3 1839.56L269.3 1839.43L270.3 1839.32L271.3 1839.22L272.3 1839.14L273.3 1839.08L274.3 1839.04L275.3 1839.01L276.3 1839.01L277.3 1839.02L278.3 1839.04L279.3 1839.08L280.3 1839.14L281.3 1839.22L282.3 1839.31L283.3 1839.42L284.3 1839.55L285.3 1839.69L286.3 1839.85L287.3 1840.03L288.3 1840.22L289.3 1840.42L290.3 1840.65L291.3 1840.88L292.3 1841.14L293.3 1841.41L294.3 1841.69L295.3 1841.99L296.3 1842.3L297.3 1842.63L298.3 1842.97L299.3 1843.33L300.3 1843.7L301.3 1844.09L302.3 1844.49L303.3 1844.9L304.3 1845.33L305.3 1845.77L306.3 1846.22L307.3 1846.69L308.3 1847.17L309.3 1847.67L310.3 1848.17L311.3 1848.69L312.3 1849.23L313.3 1849.77L314.3 1850.33L315.3 1850.9L316.3 1851.48L317.3 1852.08L318.3 1852.68L319.3 1853.3L320.3 1853.93L321.3 1854.57L322.3 1855.23L323.3 1855.89L324.3 1856.57L325.3 1857.26L326.3 1857.95L327.3 1858.66L328.3 1859.38L329.3 1860.12L330.3 1860.86L331.3 1861.61L332.3 1862.37L333.3 1863.14L334.3 1863.93L335.3 1864.72L336.3 1865.52L337.3 1866.33L338.3 1867.15L339.3 1867.98L340.3 1868.82L341.3 1869.67L342.3 1870.53L343.3 1871.4L344.3 1872.27L345.3 1873.16L346.3 1874.05L347.3 1874.95L348.3 1875.85L349.3 1876.77L350.3 1877.69L351.3 1878.62L352.3 1879.55L353.3 1880.5L354.3 1881.45L355.3 1882.4L356.3 1883.36L357.3 1884.33L358.3 1885.3L359.3 1886.28L360.3 1887.26L361.3 1888.24L362.3 1889.23L363.3 1890.23L364.3 1891.22L365.3 1892.22L366.3 1893.22L367.3 1894.23L368.3 1895.23L369.3 1896.24L370.3 1897.25L371.3 1898.26L372.3 1899.27L373.3 1900.28L374.3 1901.29L375.3 1902.3L376.3 1903.31L377.3 1904.31L378.3 1905.32L379.3 1906.32L380.3 1907.31L381.3 1908.31L382.3 1909.3L383.3 1910.28L384.3 1911.26L385.3 1912.24L386.3 1913.2L387.3 1914.17L388.3 1915.12L389.3 1916.07L390.3 1917.01L391.3 1917.94L392.3 1918.86L393.3 1919.77L394.3 1920.68L395.3 1921.57L396.3 1922.45L397.3 1923.32L398.3 1924.18L399.3 1925.03L400.3 1925.86L401.3 1926.69L402.3 1927.49L403.3 1928.29L404.3 1929.07L405.3 1929.83L406.3 1930.58L407.3 1931.32L408.3 1932.03L409.3 1932.74L410.3 1933.42L411.3 1934.09L412.3 1934.74L413.3 1935.38L414.3 1935.99L415.3 1936.59L416.3 1937.17L417.3 1937.73L418.3 1938.27L419.3 1938.79L420.3 1939.29L421.3 1939.78L422.3 1940.24L423.3 1940.68L424.3 1941.1L425.3 1941.51L426.3 1941.89L427.3 1942.25L428.3 1942.59L429.3 1942.91L430.3 1943.2L431.3 1943.48L432.3 1943.74L433.3 1943.97L434.3 1944.19L435.3 1944.38L436.3 1944.56L437.3 1944.71L438.3 1944.84L439.3 1944.95L440.3 1945.04L441.3 1945.11L442.3 1945.16L443.3 1945.18L444.3 1945.19L445.3 1945.18L446.3 1945.15L447.3 1945.1L448.3 1945.03L449.3 1944.94L450.3 1944.83L451.3 1944.7L452.3 1944.56L453.3 1944.39L454.3 1944.21L455.3 1944.01L456.3 1943.79L457.3 1943.55L458.3 1943.3L459.3 1943.03L460.3 1942.74L461.3 1942.43L462.3 1942.11L463.3 1941.77L464.3 1941.42L465.3 1941.05L466.3 1940.66L467.3 1940.26L468.3 1939.84L469.3 1939.41L470.3 1938.97L471.3 1938.5L472.3 1938.03L473.3 1937.54L474.3 1937.03L475.3 1936.52L476.3 1935.98L477.3 1935.44L478.3 1934.88L479.3 1934.31L480.3 1933.72L481.3 1933.12L482.3 1932.51L483.3 1931.89L484.3 1931.25L485.3 1930.6L486.3 1929.94L487.3 1929.27L488.3 1928.58L489.3 1927.89L490.3 1927.18L491.3 1926.46L492.3 1925.73L493.3 1924.99L494.3 1924.24L495.3 1923.47L496.3 1922.7L497.3 1921.91L498.3 1921.12L499.3 1920.31L500.3 1919.5L501.3 1918.67L502.3 1917.84L503.3 1917L504.3 1916.14L505.3 1915.28L506.3 1914.41L507.3 1913.53L508.3 1912.64L509.3 1911.74L510.3 1910.84L511.3 1909.93L512.3 1909.01L513.3 1908.08L514.3 1907.15L515.3 1906.2L516.3 1905.26L517.3 1904.3L518.3 1903.34L519.3 1902.38L520.3 1901.41L521.3 1900.43L522.3 1899.45L523.3 1898.46L524.3 1897.47L525.3 1896.48L526.3 1895.49L527.3 1894.49L528.3 1893.48L529.3 1892.48L530.3 1891.47L531.3 1890.46L532.3 1889.46L533.3 1888.45L534.3 1887.44L535.3 1886.43L536.3 1885.42L537.3 1884.41L538.3 1883.4L539.3 1882.4L540.3 1881.39L541.3 1880.39L542.3 1879.4L543.3 1878.4L544.3 1877.41L545.3 1876.43L546.3 1875.45L547.3 1874.47L548.3 1873.5L549.3 1872.54L550.3 1871.58L551.3 1870.64L552.3 1869.69L553.3 1868.76L554.3 1867.84L555.3 1866.92L556.3 1866.01L557.3 1865.12L558.3 1864.23L559.3 1863.36L560.3 1862.49L561.3 1861.64L562.3 1860.8L563.3 1859.97L564.3 1859.15L565.3 1858.35L566.3 1857.55L567.3 1856.78L568.3 1856.01L569.3 1855.26L570.3 1854.53L571.3 1853.81L572.3 1853.1L573.3 1852.41L574.3 1851.74L575.3 1851.08L576.3 1850.44L577.3 1849.82L578.3 1849.21L579.3 1848.61L580.3 1848.04L581.3 1847.48L582.3 1846.94L583.3 1846.41L584.3 1845.91L585.3 1845.42L586.3 1844.95L587.3 1844.49L588.3 1844.06L589.3 1843.64L590.3 1843.24L591.3 1842.86L592.3 1842.5L593.3 1842.15L594.3 1841.82L595.3 1841.51L596.3 1841.22L597.3 1840.95L598.3 1840.7L599.3 1840.46L600.3 1840.24L601.3 1840.04L602.3 1839.86L603.3 1839.69L604.3 1839.55L605.3 1839.42L606.3 1839.31L607.3 1839.21L608.3 1839.14L609.3 1839.08L610.3 1839.04L611.3 1839.01L612.3 1839.01L613.3 1839.02L614.3 1839.05L615.3 1839.09L616.3 1839.15L617.3 1839.23L618.3 1839.32L619.3 1839.44L620.3 1839.56L621.3 1839.71L622.3 1839.87L623.3 1840.05L624.3 1840.24L625.3 1840.45L626.3 1840.67L627.3 1840.91L628.3 1841.16L629.3 1841.43L630.3 1841.72L631.3 1842.02L632.3 1842.33L633.3 1842.66L634.3 1843.01L635.3 1843.37L636.3 1843.74L637.3 1844.13L638.3 1844.53L639.3 1844.94L640.3 1845.37L641.3 1845.81L642.3 1846.27L643.3 1846.74L644.3 1847.22L645.3 1847.72L646.3 1848.22L647.3 1848.75L648.3 1849.28L649.3 1849.83L650.3 1850.39L651.3 1850.96L652.3 1851.54L653.3 1852.14L654.3 1852.74L655.3 1853.36L656.3 1854L657.3 1854.64L658.3 1855.29L659.3 1855.96L660.3 1856.64L661.3 1857.33L662.3 1858.03L663.3 1858.74L664.3 1859.46L665.3 1860.19L666.3 1860.93L667.3 1861.68L668.3 1862.45L669.3 1863.22L670.3 1864L671.3 1864.8L672.3 1865.6L673.3 1866.41L674.3 1867.24L675.3 1868.07L676.3 1868.91L677.3 1869.76L678.3 1870.62L679.3 1871.48L680.3 1872.36L681.3 1873.24L682.3 1874.14L683.3 1875.04L684.3 1875.94L685.3 1876.86L686.3 1877.78L687.3 1878.71L688.3 1879.65L689.3 1880.59L690.3 1881.54L691.3 1882.5L692.3 1883.46L693.3 1884.42L694.3 1885.4L695.3 1886.37L696.3 1887.36L697.3 1888.34L698.3 1889.33L699.3 1890.32L700.3 1891.32L701.3 1892.32L702.3 1893.32L703.3 1894.33L704.3 1895.34L705.3 1896.34L706.3 1897.35L707.3 1898.36L708.3 1899.37L709.3 1900.38L710.3 1901.39L711.3 1902.4L712.3 1903.41L713.3 1904.41L714.3 1905.42L715.3 1906.42L716.3 1907.41L717.3 1908.41L718.3 1909.39L719.3 1910.38L720.3 1911.36L721.3 1912.33L722.3 1913.3L723.3 1914.26L724.3 1915.22L725.3 1916.16L726.3 1917.1L727.3 1918.03L728.3 1918.95L729.3 1919.86L730.3 1920.77L731.3 1921.66L732.3 1922.54L733.3 1923.41L734.3 1924.27L735.3 1925.11L736.3 1925.95L737.3 1926.77L738.3 1927.57L739.3 1928.37L740.3 1929.14L741.3 1929.91L742.3 1930.66L743.3 1931.39L744.3 1932.11L745.3 1932.81L746.3 1933.49L747.3 1934.16L748.3 1934.81L749.3 1935.44L750.3 1936.05L751.3 1936.65L752.3 1937.23L753.3 1937.78L754.3 1938.32L755.3 1938.84L756.3 1939.34L757.3 1939.82L758.3 1940.28L759.3 1940.72L760.3 1941.14L761.3 1941.54L762.3 1941.92L763.3 1942.28L764.3 1942.62L765.3 1942.94L766.3 1943.23L767.3 1943.51L768.3 1943.76L769.3 1944L770.3 1944.21L771.3 1944.4L772.3 1944.57L773.3 1944.72L774.3 1944.85L775.3 1944.96L776.3 1945.05L777.3 1945.11L778.3 1945.16L779.3 1945.19L780.3 1945.19L781.3 1945.18L782.3 1945.15L783.3 1945.09L784.3 1945.02L785.3 1944.93L786.3 1944.82L787.3 1944.69L788.3 1944.54L789.3 1944.37L790.3 1944.19L791.3 1943.99L792.3 1943.77L793.3 1943.53L794.3 1943.27L795.3 1943L796.3 1942.71L797.3 1942.4L798.3 1942.08L799.3 1941.74L800.3 1941.38L801.3 1941.01L802.3 1940.62L803.3 1940.22L804.3 1939.8L805.3 1939.37L806.3 1938.92L807.3 1938.46L808.3 1937.98L809.3 1937.49L810.3 1936.98L811.3 1936.46L812.3 1935.93L813.3 1935.38L814.3 1934.82L815.3 1934.25L816.3 1933.66L817.3 1933.06L818.3 1932.45L819.3 1931.82L820.3 1931.19L821.3 1930.54L822.3 1929.87L823.3 1929.2L824.3 1928.51L825.3 1927.82L826.3 1927.11L827.3 1926.39L828.3 1925.66L829.3 1924.91L830.3 1924.16L831.3 1923.4L832.3 1922.62L833.3 1921.83L834.3 1921.04L835.3 1920.23L836.3 1919.42L837.3 1918.59L838.3 1917.76L839.3 1916.91L840.3 1916.06L841.3 1915.19L842.3 1914.32L843.3 1913.44L844.3 1912.55L845.3 1911.65L846.3 1910.75L847.3 1909.84L848.3 1908.91L849.3 1907.99L850.3 1907.05L851.3 1906.11L852.3 1905.16L853.3 1904.21L854.3 1903.25L855.3 1902.28L856.3 1901.31L857.3 1900.33L858.3 1899.35L859.3 1898.37L860.3 1897.38L861.3 1896.38L862.3 1895.54L863.3 1895.54L864.3 1895.54L865.3 1895.54L866.3 1895.54L867.3 1895.54L868 1895.54L868 1903.34L867.3 1903.34L866.3 1903.34L865.3 1903.34L864.3 1903.34L863.3 1907.28L862.3 1908.25L861.3 1909.23L860.3 1910.19L859.3 1911.16L858.3 1912.11L857.3 1913.06L856.3 1914L855.3 1914.94L854.3 1915.87L853.3 1916.79L852.3 1917.71L851.3 1918.62L850.3 1919.52L849.3 1920.41L848.3 1921.3L847.3 1922.17L846.3 1923.04L845.3 1923.9L844.3 1924.75L843.3 1925.59L842.3 1926.42L841.3 1927.25L840.3 1928.06L839.3 1928.86L838.3 1929.66L837.3 1930.44L836.3 1931.21L835.3 1931.98L834.3 1932.73L833.3 1933.47L832.3 1934.21L831.3 1934.93L830.3 1935.64L829.3 1936.34L828.3 1937.03L827.3 1937.71L826.3 1938.37L825.3 1939.03L824.3 1939.67L823.3 1940.3L822.3 1940.92L821.3 1941.53L820.3 1942.13L819.3 1942.71L818.3 1943.29L817.3 1943.85L816.3 1944.39L815.3 1944.93L814.3 1945.45L813.3 1945.96L812.3 1946.46L811.3 1946.94L810.3 1947.41L809.3 1947.87L808.3 1948.31L807.3 1948.74L806.3 1949.15L805.3 1949.56L804.3 1949.94L803.3 1950.32L802.3 1950.68L801.3 1951.02L800.3 1951.35L799.3 1951.67L798.3 1951.97L797.3 1952.25L796.3 1952.52L795.3 1952.78L794.3 1953.02L793.3 1953.24L792.3 1953.45L791.3 1953.65L790.3 1953.82L789.3 1953.98L788.3 1954.13L787.3 1954.26L786.3 1954.37L785.3 1954.47L784.3 1954.54L783.3 1954.61L782.3 1954.65L781.3 1954.68L780.3 1954.69L779.3 1954.69L778.3 1954.66L777.3 1954.62L776.3 1954.57L775.3 1954.49L774.3 1954.4L773.3 1954.29L772.3 1954.16L771.3 1954.01L770.3 1953.85L769.3 1953.67L768.3 1953.47L767.3 1953.25L766.3 1953.02L765.3 1952.76L764.3 1952.49L763.3 1952.2L762.3 1951.89L761.3 1951.57L760.3 1951.22L759.3 1950.86L758.3 1950.48L757.3 1950.08L756.3 1949.66L755.3 1949.23L754.3 1948.78L753.3 1948.3L752.3 1947.82L751.3 1947.31L750.3 1946.79L749.3 1946.25L748.3 1945.69L747.3 1945.12L746.3 1944.52L745.3 1943.92L744.3 1943.29L743.3 1942.65L742.3 1941.99L741.3 1941.32L740.3 1940.63L739.3 1939.93L738.3 1939.21L737.3 1938.47L736.3 1937.72L735.3 1936.96L734.3 1936.19L733.3 1935.39L732.3 1934.59L731.3 1933.77L730.3 1932.95L729.3 1932.1L728.3 1931.25L727.3 1930.39L726.3 1929.51L725.3 1928.63L724.3 1927.73L723.3 1926.82L722.3 1925.91L721.3 1924.98L720.3 1924.05L719.3 1923.11L718.3 1922.16L717.3 1921.21L716.3 1920.25L715.3 1919.28L714.3 1918.3L713.3 1917.32L712.3 1916.34L711.3 1915.35L710.3 1914.35L709.3 1913.36L708.3 1912.36L707.3 1911.35L706.3 1910.35L705.3 1909.34L704.3 1908.33L703.3 1907.32L702.3 1906.31L701.3 1905.3L700.3 1904.29L699.3 1903.29L698.3 1902.28L697.3 1901.27L696.3 1900.27L695.3 1899.26L694.3 1898.26L693.3 1897.27L692.3 1896.28L691.3 1895.29L690.3 1894.3L689.3 1893.32L688.3 1892.34L687.3 1891.37L686.3 1890.41L685.3 1889.45L684.3 1888.49L683.3 1887.54L682.3 1886.6L681.3 1885.67L680.3 1884.74L679.3 1883.82L678.3 1882.91L677.3 1882L676.3 1881.1L675.3 1880.22L674.3 1879.34L673.3 1878.46L672.3 1877.6L671.3 1876.75L670.3 1875.9L669.3 1875.07L668.3 1874.24L667.3 1873.43L666.3 1872.62L665.3 1871.83L664.3 1871.04L663.3 1870.27L662.3 1869.5L661.3 1868.75L660.3 1868.01L659.3 1867.28L658.3 1866.56L657.3 1865.85L656.3 1865.15L655.3 1864.47L654.3 1863.79L653.3 1863.13L652.3 1862.48L651.3 1861.84L650.3 1861.22L649.3 1860.61L648.3 1860.01L647.3 1859.42L646.3 1858.85L645.3 1858.29L644.3 1857.74L643.3 1857.21L642.3 1856.69L641.3 1856.19L640.3 1855.7L639.3 1855.22L638.3 1854.76L637.3 1854.31L636.3 1853.88L635.3 1853.46L634.3 1853.06L633.3 1852.67L632.3 1852.3L631.3 1851.94L630.3 1851.61L629.3 1851.28L628.3 1850.98L627.3 1850.69L626.3 1850.42L625.3 1850.16L624.3 1849.92L623.3 1849.7L622.3 1849.5L621.3 1849.32L620.3 1849.15L619.3 1849L618.3 1848.88L617.3 1848.77L616.3 1848.67L615.3 1848.6L614.3 1848.55L613.3 1848.52L612.3 1848.51L611.3 1848.51L610.3 1848.54L609.3 1848.59L608.3 1848.66L607.3 1848.75L606.3 1848.86L605.3 1848.99L604.3 1849.14L603.3 1849.31L602.3 1849.5L601.3 1849.71L600.3 1849.95L599.3 1850.2L598.3 1850.48L597.3 1850.78L596.3 1851.1L595.3 1851.44L594.3 1851.79L593.3 1852.18L592.3 1852.58L591.3 1853L590.3 1853.44L589.3 1853.9L588.3 1854.38L587.3 1854.88L586.3 1855.4L585.3 1855.94L584.3 1856.5L583.3 1857.08L582.3 1857.68L581.3 1858.29L580.3 1858.93L579.3 1859.58L578.3 1860.24L577.3 1860.93L576.3 1861.63L575.3 1862.35L574.3 1863.08L573.3 1863.83L572.3 1864.59L571.3 1865.37L570.3 1866.17L569.3 1866.97L568.3 1867.8L567.3 1868.63L566.3 1869.48L565.3 1870.33L564.3 1871.2L563.3 1872.09L562.3 1872.98L561.3 1873.88L560.3 1874.79L559.3 1875.72L558.3 1876.65L557.3 1877.59L556.3 1878.53L555.3 1879.49L554.3 1880.45L553.3 1881.42L552.3 1882.39L551.3 1883.37L550.3 1884.35L549.3 1885.34L548.3 1886.34L547.3 1887.33L546.3 1888.33L545.3 1889.34L544.3 1890.34L543.3 1891.35L542.3 1892.36L541.3 1893.37L540.3 1894.38L539.3 1895.39L538.3 1896.4L537.3 1897.41L536.3 1898.42L535.3 1899.42L534.3 1900.43L533.3 1901.43L532.3 1902.43L531.3 1903.43L530.3 1904.42L529.3 1905.41L528.3 1906.39L527.3 1907.38L526.3 1908.35L525.3 1909.32L524.3 1910.29L523.3 1911.25L522.3 1912.21L521.3 1913.16L520.3 1914.1L519.3 1915.03L518.3 1915.96L517.3 1916.89L516.3 1917.8L515.3 1918.71L514.3 1919.61L513.3 1920.5L512.3 1921.38L511.3 1922.26L510.3 1923.13L509.3 1923.98L508.3 1924.83L507.3 1925.67L506.3 1926.51L505.3 1927.33L504.3 1928.14L503.3 1928.94L502.3 1929.73L501.3 1930.52L500.3 1931.29L499.3 1932.05L498.3 1932.81L497.3 1933.55L496.3 1934.28L495.3 1935L494.3 1935.71L493.3 1936.41L492.3 1937.1L491.3 1937.77L490.3 1938.44L489.3 1939.09L488.3 1939.74L487.3 1940.37L486.3 1940.99L485.3 1941.59L484.3 1942.19L483.3 1942.77L482.3 1943.34L481.3 1943.9L480.3 1944.45L479.3 1944.98L478.3 1945.5L477.3 1946.01L476.3 1946.5L475.3 1946.99L474.3 1947.45L473.3 1947.91L472.3 1948.35L471.3 1948.78L470.3 1949.19L469.3 1949.59L468.3 1949.98L467.3 1950.35L466.3 1950.71L465.3 1951.05L464.3 1951.38L463.3 1951.7L462.3 1952L461.3 1952.28L460.3 1952.55L459.3 1952.8L458.3 1953.04L457.3 1953.27L456.3 1953.47L455.3 1953.66L454.3 1953.84L453.3 1954L452.3 1954.14L451.3 1954.27L450.3 1954.38L449.3 1954.47L448.3 1954.55L447.3 1954.61L446.3 1954.66L445.3 1954.68L444.3 1954.69L443.3 1954.69L442.3 1954.66L441.3 1954.62L440.3 1954.56L439.3 1954.48L438.3 1954.39L437.3 1954.28L436.3 1954.15L435.3 1954L434.3 1953.83L433.3 1953.65L432.3 1953.45L431.3 1953.23L430.3 1952.99L429.3 1952.74L428.3 1952.46L427.3 1952.17L426.3 1951.86L425.3 1951.53L424.3 1951.19L423.3 1950.82L422.3 1950.44L421.3 1950.04L420.3 1949.62L419.3 1949.18L418.3 1948.73L417.3 1948.26L416.3 1947.77L415.3 1947.26L414.3 1946.74L413.3 1946.19L412.3 1945.63L411.3 1945.06L410.3 1944.46L409.3 1943.85L408.3 1943.23L407.3 1942.58L406.3 1941.93L405.3 1941.25L404.3 1940.56L403.3 1939.86L402.3 1939.13L401.3 1938.4L400.3 1937.65L399.3 1936.88L398.3 1936.11L397.3 1935.32L396.3 1934.51L395.3 1933.69L394.3 1932.86L393.3 1932.02L392.3 1931.17L391.3 1930.3L390.3 1929.42L389.3 1928.54L388.3 1927.64L387.3 1926.73L386.3 1925.82L385.3 1924.89L384.3 1923.96L383.3 1923.02L382.3 1922.07L381.3 1921.11L380.3 1920.15L379.3 1919.18L378.3 1918.2L377.3 1917.22L376.3 1916.24L375.3 1915.25L374.3 1914.25L373.3 1913.26L372.3 1912.26L371.3 1911.25L370.3 1910.25L369.3 1909.24L368.3 1908.23L367.3 1907.22L366.3 1906.21L365.3 1905.2L364.3 1904.19L363.3 1903.18L362.3 1902.18L361.3 1901.17L360.3 1900.17L359.3 1899.16L358.3 1898.17L357.3 1897.17L356.3 1896.18L355.3 1895.19L354.3 1894.2L353.3 1893.22L352.3 1892.25L351.3 1891.27L350.3 1890.31L349.3 1889.35L348.3 1888.4L347.3 1887.45L346.3 1886.51L345.3 1885.57L344.3 1884.65L343.3 1883.73L342.3 1882.82L341.3 1881.91L340.3 1881.02L339.3 1880.13L338.3 1879.25L337.3 1878.38L336.3 1877.52L335.3 1876.66L334.3 1875.82L333.3 1874.99L332.3 1874.16L331.3 1873.35L330.3 1872.54L329.3 1871.75L328.3 1870.96L327.3 1870.19L326.3 1869.43L325.3 1868.67L324.3 1867.93L323.3 1867.2L322.3 1866.48L321.3 1865.78L320.3 1865.08L319.3 1864.4L318.3 1863.73L317.3 1863.06L316.3 1862.42L315.3 1861.78L314.3 1861.16L313.3 1860.55L312.3 1859.95L311.3 1859.36L310.3 1858.79L309.3 1858.23L308.3 1857.69L307.3 1857.16L306.3 1856.64L305.3 1856.14L304.3 1855.65L303.3 1855.17L302.3 1854.71L301.3 1854.27L300.3 1853.83L299.3 1853.42L298.3 1853.02L297.3 1852.63L296.3 1852.26L295.3 1851.91L294.3 1851.57L293.3 1851.25L292.3 1850.95L291.3 1850.66L290.3 1850.39L289.3 1850.14L288.3 1849.9L287.3 1849.68L286.3 1849.48L285.3 1849.3L284.3 1849.14L283.3 1848.99L282.3 1848.86L281.3 1848.76L280.3 1848.67L279.3 1848.6L278.3 1848.55L277.3 1848.52L276.3 1848.51L275.3 1848.52L274.3 1848.55L273.3 1848.6L272.3 1848.67L271.3 1848.76L270.3 1848.87L269.3 1849L268.3 1849.15L267.3 1849.33L266.3 1849.52L265.3 1849.74L264.3 1849.97L263.3 1850.23L262.3 1850.51L261.3 1850.81L260.3 1851.13L259.3 1851.47L258.3 1851.83L257.3 1852.21L256.3 1852.62L255.3 1853.04L254.3 1853.48L253.3 1853.95L252.3 1854.43L251.3 1854.93L250.3 1855.46L249.3 1856L248.3 1856.56L247.3 1857.14L246.3 1857.74L245.3 1858.36L244.3 1858.99L243.3 1859.64L242.3 1860.31L241.3 1861L240.3 1861.71L239.3 1862.43L238.3 1863.16L237.3 1863.91L236.3 1864.68L235.3 1865.46L234.3 1866.26L233.3 1867.07L232.3 1867.9L231.3 1868.74L230.3 1869.59L229.3 1870.46L228.3 1871.34L227.3 1872.23L226.3 1873.14L225.3 1874.06L224.3 1874.99L223.3 1875.94L222.3 1876.89L221.3 1877.86L220.3 1878.85L219.3 1879.85L218.3 1880.86L217.3 1881.9L216.3 1882.94L215.3 1884.01L214.3 1885.09L213.3 1886.2L212.3 1887.33L211.3 1888.48L210.3 1889.65L209.3 1890.85L208.3 1892.08L207.3 1893.32L206.3 1894.59L205.3 1895.86L204.3 1897.13L203.3 1898.14L202.3 1899.12L201.3 1900.04L200.3 1900.84L199.3 1901.46L198.3 1901.29L197.3 1901.15L196.3 1901.02L195.3 1900.93L194.3 1900.86L193.8 1900.16L193.3 1900.04L192.8 1899.83L192.3 1899.52L191.8 1899.09L191.3 1898.49L190.8 1897.59L190.3 1895.15Z" fill="#a2142f"/>
<text transform="translate(192.3 2013.3) scale(0.959 1.095)" font-size="33.5" text-anchor="middle">0</text>
<text transform="translate(360.25 2013.3) scale(0.959 1.095)" font-size="33.5" text-anchor="middle">0.01</text>
<text transform="translate(528.2 2013.3) scale(0.959 1.095)" font-size="33.5" text-anchor="middle">0.02</text>
<text transform="translate(696.15 2013.3) scale(0.959 1.095)" font-size="33.5" text-anchor="middle">0.03</text>
<text transform="translate(864.1 2013.3) scale(0.959 1.095)" font-size="33.5" text-anchor="middle">0.04</text>
<text transform="translate(180.8 1836.91) scale(0.959 1.095)" font-size="33.5" text-anchor="end">10</text>
<text transform="translate(180.8 1910.46) scale(0.959 1.095)" font-size="33.5" text-anchor="end">0</text>
<text transform="translate(180.8 1984.01) scale(0.959 1.095)" font-size="33.5" text-anchor="end">-10</text>
<text transform="translate(109.4 1897.85) scale(0.943 0.984) rotate(-90)" text-anchor="middle" font-size="37.6"><tspan font-style="italic">I</tspan><tspan font-size="30.3" dy="19.55">OUT</tspan><tspan dy="-19.55">(A)</tspan></text>
<rect x="192.3" y="2033.6" width="671.8" height="161" fill="none" stroke="#262626" stroke-width="2.3"/>
<path d="M360.25 2194.6v-7M360.25 2033.6v7M528.2 2194.6v-7M528.2 2033.6v7M696.15 2194.6v-7M696.15 2033.6v7M192.3 2114.1h7M864.1 2114.1h-7" stroke="#262626" stroke-width="2.07" fill="none"/>
<path d="M192.3 2113.13L193.26 2113.36L194.22 2112.93L195.18 2113.47L196.14 2113.42L197.1 2113.21L198.06 2112.94L199.02 2113.63L199.98 2113.04L200.94 2113.5L201.9 2112.97L202.86 2112.97L203.82 2113.46L204.78 2113.04L205.74 2113.64L206.7 2113.23L207.66 2112.96L208.62 2113L209.57 2113.18L210.53 2113.41L211.49 2113.67L212.45 2112.95L213.41 2113.18L214.37 2113.03L215.33 2113.72L216.29 2112.98L217.25 2112.9L218.21 2112.92L219.17 2113.23L220.13 2113.69L221.09 2113.69L222.05 2113.56L223.01 2113.81L223.97 2113.76L224.93 2113.23L225.89 2113.11L226.85 2113.79L227.81 2113.63L228.77 2113L229.73 2113.58L230.69 2113.34L231.65 2113.35L232.61 2113.32L233.57 2113.19L234.53 2113.05L235.49 2113.31L236.45 2113.39L237.41 2113.95L238.37 2113.21L239.33 2113.98L240.29 2113.31L241.25 2113.46L242.21 2113.89L243.16 2113.91L244.12 2113.57L245.08 2113.24L246.04 2113.64L247 2113.56L247.96 2114.07L248.92 2113.43L249.88 2113.6L250.84 2114.1L251.8 2113.34L252.76 2113.69L253.72 2114.07L254.68 2114.05L255.64 2113.41L256.6 2113.42L257.56 2113.46L258.52 2114.25L259.48 2113.67L260.44 2114.13L261.4 2114.28L262.36 2113.8L263.32 2113.76L264.28 2114.39L265.24 2114.1L266.2 2113.8L267.16 2114.23L268.12 2113.88L269.08 2113.86L270.04 2113.64L271 2114.33L271.96 2114.49L272.92 2114.26L273.88 2114.55L274.84 2113.74L275.8 2113.95L276.75 2114.19L277.71 2114.64L278.67 2114.65L279.63 2114.16L280.59 2114.06L281.55 2114.24L282.51 2114.31L283.47 2114.72L284.43 2114.07L285.39 2114.64L286.35 2114.6L287.31 2114.7L288.27 2114.67L289.23 2114.54L290.19 2114.3L291.15 2114.31L292.11 2114.37L293.07 2114.76L294.03 2114.15L294.99 2114.27L295.95 2114.79L296.91 2114.35L297.87 2114.2L298.83 2114.19L299.79 2114.67L300.75 2114.49L301.71 2115.09L302.67 2115.02L303.63 2115.13L304.59 2114.49L305.55 2114.35L306.51 2114.37L307.47 2114.75L308.43 2114.95L309.39 2114.73L310.34 2114.56L311.3 2114.73L312.26 2114.93L313.22 2114.99L314.18 2115.07L315.14 2115.18L316.1 2115.03L317.06 2114.55L318.02 2115.21L318.98 2114.73L319.94 2114.99L320.9 2114.83L321.86 2115.17L322.82 2114.69L323.78 2114.75L324.74 2114.76L325.7 2114.69L326.66 2115.35L327.62 2115.09L328.58 2114.87L329.54 2114.95L330.5 2115.49L331.46 2115.07L332.42 2114.83L333.38 2115.35L334.34 2115.22L335.3 2115.53L336.26 2114.74L337.22 2115.09L338.18 2115.4L339.14 2115.43L340.1 2115.5L341.06 2114.72L342.02 2114.96L342.98 2114.81L343.93 2114.87L344.89 2115.58L345.85 2115.24L346.81 2115.56L347.77 2115.06L348.73 2115.51L349.69 2115.13L350.65 2114.97L351.61 2115.44L352.57 2115.59L353.53 2114.84L354.49 2115.28L355.45 2115.3L356.41 2114.94L357.37 2115.08L358.33 2114.88L359.29 2114.93L360.25 2114.98L361.21 2115.29L362.17 2115.34L363.13 2114.93L364.09 2114.76L365.05 2115.04L366.01 2115.35L366.97 2114.91L367.93 2115.02L368.89 2114.92L369.85 2115.45L370.81 2115.22L371.77 2114.78L372.73 2114.81L373.69 2115.07L374.65 2115.21L375.61 2115.28L376.57 2114.79L377.52 2114.85L378.48 2115.32L379.44 2115.06L380.4 2114.93L381.36 2114.95L382.32 2115.52L383.28 2114.94L384.24 2115.16L385.2 2114.96L386.16 2115.01L387.12 2115.4L388.08 2115.51L389.04 2114.94L390 2114.78L390.96 2115.24L391.92 2114.76L392.88 2114.57L393.84 2115.37L394.8 2114.93L395.76 2115.28L396.72 2114.89L397.68 2115.31L398.64 2114.92L399.6 2114.64L400.56 2114.49L401.52 2114.96L402.48 2115.03L403.44 2115.26L404.4 2114.51L405.36 2114.97L406.32 2114.73L407.28 2114.84L408.24 2114.5L409.2 2114.61L410.16 2114.81L411.11 2115.16L412.07 2114.41L413.03 2114.74L413.99 2115.01L414.95 2115.14L415.91 2114.43L416.87 2114.35L417.83 2115.07L418.79 2115.09L419.75 2114.63L420.71 2114.22L421.67 2114.99L422.63 2114.49L423.59 2114.94L424.55 2114.67L425.51 2114.84L426.47 2114.22L427.43 2114.77L428.39 2114.24L429.35 2114.39L430.31 2114.77L431.27 2114.74L432.23 2114.14L433.19 2114.15L434.15 2114.3L435.11 2114.39L436.07 2114.25L437.03 2113.99L437.99 2114.09L438.95 2114.5L439.91 2114.64L440.87 2113.85L441.83 2114.3L442.79 2114.46L443.75 2113.79L444.7 2114.5L445.66 2113.83L446.62 2114.24L447.58 2114.18L448.54 2114.23L449.5 2113.93L450.46 2114.01L451.42 2114.14L452.38 2113.98L453.34 2114.17L454.3 2113.96L455.26 2113.94L456.22 2113.55L457.18 2114.07L458.14 2113.93L459.1 2113.69L460.06 2114.15L461.02 2114.14L461.98 2113.84L462.94 2113.57L463.9 2113.82L464.86 2113.47L465.82 2113.47L466.78 2113.73L467.74 2113.41L468.7 2113.71L469.66 2113.75L470.62 2113.31L471.58 2113.83L472.54 2113.32L473.5 2113.89L474.46 2113.91L475.42 2113.66L476.38 2113.23L477.34 2113.62L478.29 2113.5L479.25 2114L480.21 2113.25L481.17 2113.88L482.13 2114L483.09 2113.74L484.05 2113.81L485.01 2113.23L485.97 2113.93L486.93 2113.48L487.89 2113.88L488.85 2113.83L489.81 2113.15L490.77 2113.69L491.73 2113.81L492.69 2113.02L493.65 2113.27L494.61 2113.62L495.57 2113.07L496.53 2113.73L497.49 2113.16L498.45 2113.63L499.41 2113.02L500.37 2113.33L501.33 2113.7L502.29 2113.05L503.25 2113.09L504.21 2113.3L505.17 2113.13L506.13 2112.87L507.09 2112.99L508.05 2112.97L509.01 2113.66L509.97 2113.42L510.93 2113.61L511.88 2112.95L512.84 2113.5L513.8 2112.89L514.76 2113.26L515.72 2113.35L516.68 2113.1L517.64 2113.56L518.6 2113.27L519.56 2113.29L520.52 2113.55L521.48 2112.85L522.44 2113.65L523.4 2113.32L524.36 2113.11L525.32 2113.47L526.28 2112.99L527.24 2113.64L528.2 2113.27L529.16 2113.07L530.12 2113.44L531.08 2113.15L532.04 2112.91L533 2113.42L533.96 2112.8L534.92 2113.5L535.88 2112.99L536.84 2113.34L537.8 2113.65L538.76 2113.3L539.72 2113.37L540.68 2113.06L541.64 2112.78L542.6 2112.82L543.56 2112.93L544.52 2113.35L545.47 2113.19L546.43 2113.27L547.39 2113.62L548.35 2112.94L549.31 2113.03L550.27 2113.42L551.23 2112.86L552.19 2112.85L553.15 2113.18L554.11 2112.96L555.07 2113.2L556.03 2113.08L556.99 2113.42L557.95 2113.43L558.91 2113.09L559.87 2113.48L560.83 2113.36L561.79 2113.06L562.75 2113.79L563.71 2113.18L564.67 2113.11L565.63 2113.07L566.59 2113.57L567.55 2113.79L568.51 2113.72L569.47 2113.4L570.43 2113.28L571.39 2113.07L572.35 2113.65L573.31 2113.59L574.27 2113.41L575.23 2113.69L576.19 2113.53L577.15 2113.98L578.11 2113.82L579.06 2113.39L580.02 2114L580.98 2113.24L581.94 2113.69L582.9 2113.59L583.86 2113.46L584.82 2113.31L585.78 2113.98L586.74 2113.3L587.7 2113.8L588.66 2114.17L589.62 2113.47L590.58 2113.54L591.54 2113.92L592.5 2113.85L593.46 2113.98L594.42 2114.16L595.38 2113.6L596.34 2113.74L597.3 2113.75L598.26 2113.54L599.22 2114.31L600.18 2114.23L601.14 2114.19L602.1 2113.57L603.06 2114.34L604.02 2114.27L604.98 2114.03L605.94 2114.3L606.9 2114.06L607.86 2113.87L608.82 2113.78L609.78 2113.91L610.74 2113.76L611.7 2114.04L612.65 2114.43L613.61 2114.4L614.57 2114.56L615.53 2114.45L616.49 2114.07L617.45 2114.35L618.41 2114.26L619.37 2114.59L620.33 2114.37L621.29 2114.16L622.25 2114.52L623.21 2114.82L624.17 2114.17L625.13 2114.78L626.09 2114.02L627.05 2114.26L628.01 2114.25L628.97 2114.73L629.93 2114.93L630.89 2114.76L631.85 2114.4L632.81 2114.92L633.77 2114.44L634.73 2114.37L635.69 2114.99L636.65 2114.76L637.61 2114.83L638.57 2114.82L639.53 2115.12L640.49 2114.68L641.45 2115.03L642.41 2114.91L643.37 2115.07L644.33 2114.71L645.29 2114.98L646.24 2114.86L647.2 2114.64L648.16 2114.56L649.12 2114.95L650.08 2114.47L651.04 2115.23L652 2114.56L652.96 2114.47L653.92 2114.55L654.88 2115.3L655.84 2114.79L656.8 2114.62L657.76 2114.53L658.72 2114.55L659.68 2115.15L660.64 2115.11L661.6 2115.18L662.56 2115.22L663.52 2114.63L664.48 2115.11L665.44 2114.92L666.4 2115.33L667.36 2115.35L668.32 2115.42L669.28 2114.69L670.24 2115.42L671.2 2115.47L672.16 2115.5L673.12 2114.76L674.08 2114.85L675.04 2114.77L676 2114.71L676.96 2115.45L677.92 2115.42L678.88 2115.27L679.83 2115.45L680.79 2115.28L681.75 2114.97L682.71 2114.81L683.67 2114.81L684.63 2115.41L685.59 2114.92L686.55 2115.02L687.51 2115.12L688.47 2114.76L689.43 2114.97L690.39 2115L691.35 2115.39L692.31 2115.08L693.27 2115.04L694.23 2115.62L695.19 2115.2L696.15 2115.52L697.11 2115.31L698.07 2114.78L699.03 2115.12L699.99 2115.14L700.95 2115.44L701.91 2115.06L702.87 2115.38L703.83 2115.22L704.79 2114.93L705.75 2115.51L706.71 2114.81L707.67 2115.46L708.63 2114.88L709.59 2114.72L710.55 2114.9L711.51 2115.39L712.47 2115.58L713.42 2114.7L714.38 2115.13L715.34 2115.13L716.3 2115.4L717.26 2114.84L718.22 2115.11L719.18 2114.97L720.14 2115.4L721.1 2114.88L722.06 2115.48L723.02 2114.88L723.98 2114.81L724.94 2115.24L725.9 2115.05L726.86 2114.69L727.82 2115.15L728.78 2114.64L729.74 2115.27L730.7 2115.18L731.66 2115.25L732.62 2115.09L733.58 2114.83L734.54 2114.86L735.5 2114.85L736.46 2115.28L737.42 2114.54L738.38 2115.25L739.34 2114.46L740.3 2114.61L741.26 2114.65L742.22 2115.21L743.18 2114.84L744.14 2114.71L745.1 2115.15L746.06 2114.56L747.01 2114.75L747.97 2114.79L748.93 2114.98L749.89 2114.96L750.85 2114.85L751.81 2114.57L752.77 2114.53L753.73 2114.36L754.69 2114.97L755.65 2114.79L756.61 2114.84L757.57 2114.31L758.53 2114.54L759.49 2114.82L760.45 2114.63L761.41 2114.21L762.37 2114.49L763.33 2114.86L764.29 2114.26L765.25 2114.2L766.21 2114.28L767.17 2114.62L768.13 2114.73L769.09 2114.09L770.05 2114.08L771.01 2114.14L771.97 2114.2L772.93 2114.35L773.89 2114.01L774.85 2114.14L775.81 2114L776.77 2114.69L777.73 2114.45L778.69 2113.87L779.65 2114.63L780.6 2113.83L781.56 2114.07L782.52 2114.59L783.48 2114.4L784.44 2114.33L785.4 2114.04L786.36 2113.81L787.32 2114.19L788.28 2113.69L789.24 2113.77L790.2 2113.91L791.16 2113.58L792.12 2113.89L793.08 2114.22L794.04 2114.12L795 2113.93L795.96 2114.03L796.92 2113.86L797.88 2113.55L798.84 2113.95L799.8 2113.75L800.76 2114.04L801.72 2114.17L802.68 2113.73L803.64 2113.84L804.6 2113.98L805.56 2113.67L806.52 2113.48L807.48 2113.91L808.44 2114.04L809.4 2113.93L810.36 2113.84L811.32 2113.97L812.28 2113.8L813.24 2113.75L814.19 2113.56L815.15 2113.42L816.11 2113.69L817.07 2113.2L818.03 2113.48L818.99 2113.79L819.95 2113.71L820.91 2113.63L821.87 2113.27L822.83 2113.41L823.79 2113.43L824.75 2113.57L825.71 2113.37L826.67 2113.59L827.63 2113.81L828.59 2113.13L829.55 2113.54L830.51 2113.64L831.47 2113.28L832.43 2113.36L833.39 2113.79L834.35 2112.94L835.31 2113.38L836.27 2113.03L837.23 2113.58L838.19 2113.71L839.15 2113.32L840.11 2112.94L841.07 2113.36L842.03 2113.32L842.99 2113.47L843.95 2113.28L844.91 2113.39L845.87 2113.55L846.83 2113.27L847.78 2113.17L848.74 2113.64L849.7 2112.98L850.66 2113.4L851.62 2113.13L852.58 2113.46L853.54 2112.88L854.5 2113.65L855.46 2113.08L856.42 2112.81L857.38 2113L858.34 2113.12L859.3 2112.77L860.26 2113.13L861.22 2113.13L862.18 2113.38L863.14 2113.07L864.1 2112.99" fill="none" stroke="#ff0000" stroke-width="1.7" stroke-linejoin="round"/>
<path d="M191.5 2093.35L191.75 2092.24L192 2091.82L192.25 2092.7L192.5 2093.36L192.75 2092.12L193 2092.99L193.25 2093.37L193.5 2093.55L193.75 2092.17L194 2092.1L194.25 2092.77L194.5 2094.6L194.75 2095.91L195 2097.95L195.25 2098.29L195.5 2100.66L195.75 2101.45L196 2102.15L196.25 2103L196.5 2104.1L196.75 2104.95L197 2105.37L197.25 2106.28L197.5 2106.31L197.75 2107.14L198 2107.31L198.25 2108.06L198.5 2108.39L198.75 2108.81L199 2109.06L199.25 2109.46L199.5 2109.81L199.75 2109.82L200 2110.2L200.25 2110.43L200.5 2110.62L200.75 2110.76L201 2110.95L201.25 2111.07L201.5 2111.22L201.75 2111.41L202 2111.44L202.25 2111.58L202.5 2111.8L202.75 2111.8L203 2111.89L203.25 2111.99L203.5 2112.13L203.75 2112.14L204 2112.22L204.25 2112.33L204.5 2112.39L204.75 2112.38L205 2112.45L205.25 2112.51L205.25 2115.85L205 2115.92L204.75 2116L204.5 2115.99L204.25 2116.05L204 2116.17L203.75 2116.26L203.5 2116.27L203.25 2116.43L203 2116.54L202.75 2116.64L202.5 2116.64L202.25 2116.88L202 2117.03L201.75 2117.07L201.5 2117.28L201.25 2117.44L201 2117.57L200.75 2117.78L200.5 2117.94L200.25 2118.15L200 2118.4L199.75 2118.82L199.5 2118.84L199.25 2119.21L199 2119.66L198.75 2119.94L198.5 2120.39L198.25 2120.76L198 2121.59L197.75 2121.78L197.5 2122.69L197.25 2122.73L197 2123.73L196.75 2124.2L196.5 2125.13L196.25 2126.35L196 2127.28L195.75 2128.05L195.5 2128.93L195.25 2131.54L195 2131.92L194.75 2134.17L194.5 2135.61L194.25 2137.62L194 2138.37L193.75 2138.29L193.5 2136.77L193.25 2136.96L193 2137.39L192.75 2138.35L192.5 2136.98L192.25 2137.7L192 2138.68L191.75 2138.21L191.5 2136.99Z" fill="#ff0000"/>
<rect x="191.3" y="2032.6" width="2" height="105.5" fill="#ff0000"/>
<text transform="translate(192.3 2237.1) scale(0.959 1.095)" font-size="33.5" text-anchor="middle">0</text>
<text transform="translate(360.25 2237.1) scale(0.959 1.095)" font-size="33.5" text-anchor="middle">0.01</text>
<text transform="translate(528.2 2237.1) scale(0.959 1.095)" font-size="33.5" text-anchor="middle">0.02</text>
<text transform="translate(696.15 2237.1) scale(0.959 1.095)" font-size="33.5" text-anchor="middle">0.03</text>
<text transform="translate(864.1 2237.1) scale(0.959 1.095)" font-size="33.5" text-anchor="middle">0.04</text>
<text transform="translate(180.8 2046.81) scale(0.959 1.095)" font-size="33.5" text-anchor="end">0.5</text>
<text transform="translate(180.8 2127.31) scale(0.959 1.095)" font-size="33.5" text-anchor="end">0</text>
<text transform="translate(180.8 2207.81) scale(0.959 1.095)" font-size="33.5" text-anchor="end">-0.5</text>
<text transform="translate(122.7 2115.3) scale(0.943 0.984) rotate(-90)" text-anchor="middle" font-size="37.6"><tspan font-style="italic">I</tspan><tspan font-size="30.3" dy="19.55">CMLC</tspan><tspan dy="-19.55">(A)</tspan></text>
<text transform="translate(529.3 2278.6) scale(0.943 0.968)" font-size="37.6" text-anchor="middle">Time (seconds)</text>
<text transform="translate(489.5 2352.1) scale(0.95 1.0)" font-size="34.7" text-anchor="middle" fill="#1a1a1a">(g)</text>
</svg>
</body></html>
